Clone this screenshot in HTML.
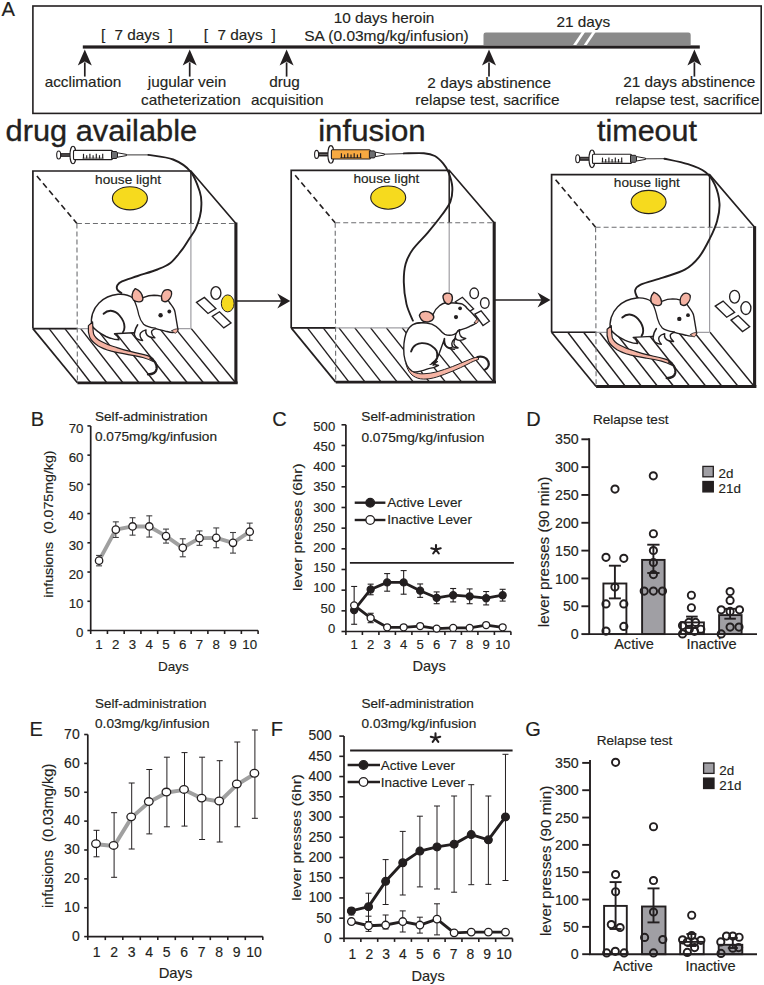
<!DOCTYPE html>
<html><head><meta charset="utf-8"><style>
html,body{margin:0;padding:0;background:#fff;width:764px;height:985px;overflow:hidden}
svg{display:block;font-family:"Liberation Sans", sans-serif}
</style></head><body>
<svg width="764" height="985" viewBox="0 0 764 985">
<rect width="764" height="985" fill="#fff"/>
<text x="1.5" y="15.7" font-size="20.2" fill="#231f20" stroke="#231f20" stroke-width="0.15">A</text>
<rect x="32.9" y="6" width="728.3" height="107.4" fill="none" stroke="#231f20" stroke-width="1.6"/>
<path d="M483.5,45 L483.5,34.7 Q483.5,32.4 485.8,32.4 L688.4,32.4 Q690.7,32.4 690.7,34.7 L690.7,45 Z" fill="#8a8a8a"/>
<path d="M573.1,45 L582,31.8 L585.3,31.8 L576.4,45 Z" fill="#fff"/>
<path d="M583.8,45 L592.6,31.8 L595.8,31.8 L586.8,45 Z" fill="#fff"/>
<rect x="82.8" y="45.4" width="617" height="3.2" fill="#231f20"/>
<line x1="84.80" y1="62.40" x2="84.80" y2="76.60" stroke="#231f20" stroke-width="1.7"/>
<path d="M84.80,49.40 L91.80,65.40 L84.80,61.60 L77.80,65.40 Z" fill="#231f20"/>
<line x1="189.70" y1="62.40" x2="189.70" y2="76.60" stroke="#231f20" stroke-width="1.7"/>
<path d="M189.70,49.40 L196.70,65.40 L189.70,61.60 L182.70,65.40 Z" fill="#231f20"/>
<line x1="286.60" y1="62.40" x2="286.60" y2="76.60" stroke="#231f20" stroke-width="1.7"/>
<path d="M286.60,49.40 L293.60,65.40 L286.60,61.60 L279.60,65.40 Z" fill="#231f20"/>
<line x1="489.00" y1="62.40" x2="489.00" y2="76.60" stroke="#231f20" stroke-width="1.7"/>
<path d="M489.00,49.40 L496.00,65.40 L489.00,61.60 L482.00,65.40 Z" fill="#231f20"/>
<line x1="694.40" y1="62.40" x2="694.40" y2="76.60" stroke="#231f20" stroke-width="1.7"/>
<path d="M694.40,49.40 L701.40,65.40 L694.40,61.60 L687.40,65.40 Z" fill="#231f20"/>
<text x="100.9" y="40.2" font-size="15.35" fill="#231f20" stroke="#231f20" stroke-width="0.15">[</text>
<text x="114.5" y="40.2" font-size="15.35" fill="#231f20" stroke="#231f20" stroke-width="0.15">7 days</text>
<text x="168.5" y="40.2" font-size="15.35" fill="#231f20" stroke="#231f20" stroke-width="0.15">]</text>
<text x="203.8" y="40.2" font-size="15.35" fill="#231f20" stroke="#231f20" stroke-width="0.15">[</text>
<text x="217.5" y="40.2" font-size="15.35" fill="#231f20" stroke="#231f20" stroke-width="0.15">7 days</text>
<text x="271.5" y="40.2" font-size="15.35" fill="#231f20" stroke="#231f20" stroke-width="0.15">]</text>
<text x="384" y="23" font-size="15.35" text-anchor="middle" fill="#231f20" stroke="#231f20" stroke-width="0.15">10 days heroin</text>
<text x="304.2" y="40.6" font-size="15.35" textLength="164.5" lengthAdjust="spacingAndGlyphs" fill="#231f20" stroke="#231f20" stroke-width="0.15">SA (0.03mg/kg/infusion)</text>
<text x="583.3" y="27.3" font-size="15.35" text-anchor="middle" fill="#231f20" stroke="#231f20" stroke-width="0.15">21 days</text>
<text x="83" y="87.2" font-size="15.35" text-anchor="middle" fill="#231f20" stroke="#231f20" stroke-width="0.15">acclimation</text>
<text x="187" y="86.8" font-size="15.35" text-anchor="middle" fill="#231f20" stroke="#231f20" stroke-width="0.15">jugular vein</text>
<text x="191" y="105" font-size="15.35" text-anchor="middle" fill="#231f20" stroke="#231f20" stroke-width="0.15">catheterization</text>
<text x="284.5" y="87" font-size="15.35" text-anchor="middle" fill="#231f20" stroke="#231f20" stroke-width="0.15">drug</text>
<text x="287.3" y="105" font-size="15.35" text-anchor="middle" fill="#231f20" stroke="#231f20" stroke-width="0.15">acquisition</text>
<text x="489.2" y="88.3" font-size="15.35" text-anchor="middle" fill="#231f20" stroke="#231f20" stroke-width="0.15">2 days abstinence</text>
<text x="487.4" y="105" font-size="15.35" text-anchor="middle" fill="#231f20" stroke="#231f20" stroke-width="0.15">relapse test, sacrifice</text>
<text x="689.3" y="86.9" font-size="15.35" text-anchor="middle" fill="#231f20" stroke="#231f20" stroke-width="0.15">21 days abstinence</text>
<text x="687.4" y="105" font-size="15.35" text-anchor="middle" fill="#231f20" stroke="#231f20" stroke-width="0.15">relapse test, sacrifice</text>
<text x="5.6" y="140.6" font-size="30" textLength="191.5" lengthAdjust="spacingAndGlyphs" fill="#231f20" stroke="#231f20" stroke-width="0.35">drug available</text>
<text x="318.2" y="140.6" font-size="30" textLength="107.5" lengthAdjust="spacingAndGlyphs" fill="#231f20" stroke="#231f20" stroke-width="0.35">infusion</text>
<text x="597" y="140.6" font-size="30" textLength="100" lengthAdjust="spacingAndGlyphs" fill="#231f20" stroke="#231f20" stroke-width="0.35">timeout</text>
<line x1="49.10" y1="328.60" x2="90.70" y2="382.80" stroke="#231f20" stroke-width="1.4"/>
<line x1="64.90" y1="328.60" x2="106.80" y2="382.80" stroke="#231f20" stroke-width="1.4"/>
<line x1="80.70" y1="328.60" x2="122.90" y2="382.80" stroke="#231f20" stroke-width="1.4"/>
<line x1="96.50" y1="328.60" x2="139.00" y2="382.80" stroke="#231f20" stroke-width="1.4"/>
<line x1="112.30" y1="328.60" x2="155.10" y2="382.80" stroke="#231f20" stroke-width="1.4"/>
<line x1="128.10" y1="328.60" x2="171.20" y2="382.80" stroke="#231f20" stroke-width="1.4"/>
<line x1="143.90" y1="328.60" x2="187.30" y2="382.80" stroke="#231f20" stroke-width="1.4"/>
<line x1="159.70" y1="328.60" x2="203.40" y2="382.80" stroke="#231f20" stroke-width="1.4"/>
<line x1="175.50" y1="328.60" x2="219.50" y2="382.80" stroke="#231f20" stroke-width="1.4"/>
<line x1="191.30" y1="328.60" x2="235.60" y2="382.80" stroke="#231f20" stroke-width="1.4"/>
<line x1="190.90" y1="223.50" x2="190.90" y2="328.60" stroke="#a09fa4" stroke-width="1.2"/>
<line x1="190.90" y1="171.00" x2="190.90" y2="223.50" stroke="#231f20" stroke-width="1.5"/>
<line x1="32.90" y1="328.60" x2="190.90" y2="328.60" stroke="#a09fa4" stroke-width="1.2"/>
<line x1="32.90" y1="328.60" x2="76.90" y2="328.60" stroke="#231f20" stroke-width="1.6"/>
<line x1="36.90" y1="176.00" x2="76.90" y2="223.50" stroke="#231f20" stroke-width="1.6" stroke-dasharray="5.8,3.7"/>
<line x1="76.90" y1="223.50" x2="235.90" y2="223.50" stroke="#6d6e71" stroke-width="1.1" stroke-dasharray="5,3"/>
<line x1="76.90" y1="223.50" x2="77.40" y2="382.80" stroke="#6d6e71" stroke-width="1.1" stroke-dasharray="5,3"/>
<path d="M32.9,328.6 L32.9,171 L190.9,171 L235.9,223.5" fill="none" stroke="#231f20" stroke-width="1.7" stroke-linejoin="miter"/>
<path d="M32.9,328.6 L77.4,382.8" fill="none" stroke="#231f20" stroke-width="1.7"/>
<line x1="235.90" y1="222.50" x2="235.90" y2="382.80" stroke="#231f20" stroke-width="3.1"/>
<path d="M237.70000000000002,382.8 L77.4,382.8" fill="none" stroke="#231f20" stroke-width="2.8"/>
<ellipse cx="129.9" cy="198.3" rx="17.5" ry="11.6" fill="#f6da1e" stroke="#231f20" stroke-width="1.1"/>
<text x="95.1" y="183.6" font-size="12.6" textLength="66" lengthAdjust="spacingAndGlyphs" fill="#231f20" stroke="#231f20" stroke-width="0.15">house light</text>
<line x1="307.40" y1="327.90" x2="349.00" y2="382.10" stroke="#231f20" stroke-width="1.4"/>
<line x1="323.20" y1="327.90" x2="365.10" y2="382.10" stroke="#231f20" stroke-width="1.4"/>
<line x1="339.00" y1="327.90" x2="381.20" y2="382.10" stroke="#231f20" stroke-width="1.4"/>
<line x1="354.80" y1="327.90" x2="397.30" y2="382.10" stroke="#231f20" stroke-width="1.4"/>
<line x1="370.60" y1="327.90" x2="413.40" y2="382.10" stroke="#231f20" stroke-width="1.4"/>
<line x1="386.40" y1="327.90" x2="429.50" y2="382.10" stroke="#231f20" stroke-width="1.4"/>
<line x1="402.20" y1="327.90" x2="445.60" y2="382.10" stroke="#231f20" stroke-width="1.4"/>
<line x1="418.00" y1="327.90" x2="461.70" y2="382.10" stroke="#231f20" stroke-width="1.4"/>
<line x1="433.80" y1="327.90" x2="477.80" y2="382.10" stroke="#231f20" stroke-width="1.4"/>
<line x1="449.60" y1="327.90" x2="493.90" y2="382.10" stroke="#231f20" stroke-width="1.4"/>
<line x1="449.20" y1="222.80" x2="449.20" y2="327.90" stroke="#a09fa4" stroke-width="1.2"/>
<line x1="449.20" y1="170.30" x2="449.20" y2="222.80" stroke="#231f20" stroke-width="1.5"/>
<line x1="291.20" y1="327.90" x2="449.20" y2="327.90" stroke="#a09fa4" stroke-width="1.2"/>
<line x1="291.20" y1="327.90" x2="335.20" y2="327.90" stroke="#231f20" stroke-width="1.6"/>
<line x1="295.20" y1="175.30" x2="335.20" y2="222.80" stroke="#231f20" stroke-width="1.6" stroke-dasharray="5.8,3.7"/>
<line x1="335.20" y1="222.80" x2="494.20" y2="222.80" stroke="#6d6e71" stroke-width="1.1" stroke-dasharray="5,3"/>
<line x1="335.20" y1="222.80" x2="335.70" y2="382.10" stroke="#6d6e71" stroke-width="1.1" stroke-dasharray="5,3"/>
<path d="M291.2,327.9 L291.2,170.3 L449.2,170.3 L494.2,222.8" fill="none" stroke="#231f20" stroke-width="1.7" stroke-linejoin="miter"/>
<path d="M291.2,327.9 L335.7,382.1" fill="none" stroke="#231f20" stroke-width="1.7"/>
<line x1="494.20" y1="221.80" x2="494.20" y2="382.10" stroke="#231f20" stroke-width="3.1"/>
<path d="M496.0,382.1 L335.7,382.1" fill="none" stroke="#231f20" stroke-width="2.8"/>
<ellipse cx="388.2" cy="197.60000000000002" rx="17.5" ry="11.6" fill="#f6da1e" stroke="#231f20" stroke-width="1.1"/>
<text x="353.4" y="182.9" font-size="12.6" textLength="66" lengthAdjust="spacingAndGlyphs" fill="#231f20" stroke="#231f20" stroke-width="0.15">house light</text>
<line x1="567.80" y1="332.30" x2="609.40" y2="386.50" stroke="#231f20" stroke-width="1.4"/>
<line x1="583.60" y1="332.30" x2="625.50" y2="386.50" stroke="#231f20" stroke-width="1.4"/>
<line x1="599.40" y1="332.30" x2="641.60" y2="386.50" stroke="#231f20" stroke-width="1.4"/>
<line x1="615.20" y1="332.30" x2="657.70" y2="386.50" stroke="#231f20" stroke-width="1.4"/>
<line x1="631.00" y1="332.30" x2="673.80" y2="386.50" stroke="#231f20" stroke-width="1.4"/>
<line x1="646.80" y1="332.30" x2="689.90" y2="386.50" stroke="#231f20" stroke-width="1.4"/>
<line x1="662.60" y1="332.30" x2="706.00" y2="386.50" stroke="#231f20" stroke-width="1.4"/>
<line x1="678.40" y1="332.30" x2="722.10" y2="386.50" stroke="#231f20" stroke-width="1.4"/>
<line x1="694.20" y1="332.30" x2="738.20" y2="386.50" stroke="#231f20" stroke-width="1.4"/>
<line x1="710.00" y1="332.30" x2="754.30" y2="386.50" stroke="#231f20" stroke-width="1.4"/>
<line x1="709.60" y1="227.20" x2="709.60" y2="332.30" stroke="#a09fa4" stroke-width="1.2"/>
<line x1="709.60" y1="174.70" x2="709.60" y2="227.20" stroke="#231f20" stroke-width="1.5"/>
<line x1="551.60" y1="332.30" x2="709.60" y2="332.30" stroke="#a09fa4" stroke-width="1.2"/>
<line x1="551.60" y1="332.30" x2="595.60" y2="332.30" stroke="#231f20" stroke-width="1.6"/>
<line x1="555.60" y1="179.70" x2="595.60" y2="227.20" stroke="#231f20" stroke-width="1.6" stroke-dasharray="5.8,3.7"/>
<line x1="595.60" y1="227.20" x2="754.60" y2="227.20" stroke="#6d6e71" stroke-width="1.1" stroke-dasharray="5,3"/>
<line x1="595.60" y1="227.20" x2="596.10" y2="386.50" stroke="#6d6e71" stroke-width="1.1" stroke-dasharray="5,3"/>
<path d="M551.6,332.29999999999995 L551.6,174.7 L709.6,174.7 L754.6,227.2" fill="none" stroke="#231f20" stroke-width="1.7" stroke-linejoin="miter"/>
<path d="M551.6,332.29999999999995 L596.1,386.5" fill="none" stroke="#231f20" stroke-width="1.7"/>
<line x1="754.60" y1="226.20" x2="754.60" y2="386.50" stroke="#231f20" stroke-width="3.1"/>
<path d="M756.4,386.5 L596.1,386.5" fill="none" stroke="#231f20" stroke-width="2.8"/>
<ellipse cx="648.6" cy="202.0" rx="17.5" ry="11.6" fill="#f6da1e" stroke="#231f20" stroke-width="1.1"/>
<text x="613.8000000000001" y="187.29999999999998" font-size="12.6" textLength="66" lengthAdjust="spacingAndGlyphs" fill="#231f20" stroke="#231f20" stroke-width="0.15">house light</text>
<g transform="translate(0.00,0.00)">
<ellipse cx="215.9" cy="293" rx="5" ry="6.4" fill="#fff" stroke="#231f20" stroke-width="1.35"/>
<ellipse cx="227.7" cy="303.4" rx="6.4" ry="8.5" fill="#f6da1e" stroke="#231f20" stroke-width="1"/>
<path d="M196.5,302.4 L204.4,297.4 L215.9,308.6 L208,313.5 Z" fill="#fff" stroke="#231f20" stroke-width="1.35"/>
<path d="M212.3,316.4 L219.5,311.8 L231,323 L223.8,327.9 Z" fill="#fff" stroke="#231f20" stroke-width="1.35"/>
</g>
<g transform="translate(518.70,3.70)">
<ellipse cx="215.9" cy="293" rx="5" ry="6.4" fill="#fff" stroke="#231f20" stroke-width="1.35"/>
<ellipse cx="227.2" cy="304.4" rx="5" ry="6.4" fill="#fff" stroke="#231f20" stroke-width="1.35"/>
<path d="M196.5,302.4 L204.4,297.4 L215.9,308.6 L208,313.5 Z" fill="#fff" stroke="#231f20" stroke-width="1.35"/>
<path d="M212.3,316.4 L219.5,311.8 L231,323 L223.8,327.9 Z" fill="#fff" stroke="#231f20" stroke-width="1.35"/>
</g>
<ellipse cx="474.2" cy="293.3" rx="4.3" ry="5.3" fill="#fff" stroke="#231f20" stroke-width="1.35"/>
<ellipse cx="484.8" cy="303" rx="4.3" ry="5.3" fill="#fff" stroke="#231f20" stroke-width="1.35"/>
<path d="M455.4,301.8 L462.4,297.3 L473.6,308.8 L467.1,313 Z" fill="#fff" stroke="#231f20" stroke-width="1.35"/>
<path d="M474.8,314.1 L481.1,310.8 L489.4,321.2 L483,325.5 Z" fill="#fff" stroke="#231f20" stroke-width="1.35"/>
<line x1="126.00" y1="154.90" x2="149.00" y2="154.90" stroke="#231f20" stroke-width="0.9"/>
<path d="M148.4,154.9 C152.5,155.7 166.0,156.7 173.1,159.5 C180.2,162.3 186.3,166.4 190.8,171.8 C195.3,177.2 198.1,186.8 199.9,192.2 C201.7,197.6 201.4,200.3 201.4,204.4 C201.4,208.5 200.9,212.5 199.9,216.6 C198.9,220.7 197.4,225.0 195.6,228.8 C193.8,232.6 191.2,235.7 188.8,239.4 C186.4,243.1 184.0,247.3 180.9,251.2 C177.8,255.1 174.3,259.9 170.4,263 C166.5,266.1 162.9,267.3 157.4,269.5 C151.9,271.7 143.6,274.0 137.7,276 C131.8,278.0 125.4,279.8 122,281.3 C118.6,282.8 118.2,283.8 117.4,285.2 C116.6,286.6 116.7,288.5 117.4,289.8 C118.1,291.1 120.7,292.5 121.4,293" fill="none" stroke="#231f20" stroke-width="1.9" stroke-linecap="round"/>
<line x1="384.00" y1="154.20" x2="404.50" y2="153.60" stroke="#231f20" stroke-width="0.9"/>
<path d="M403.8,153.4 C407.1,153.4 418.7,152.8 423.9,153.2 C429.1,153.6 431.7,154.3 434.9,156 C438.1,157.7 440.8,160.6 443.1,163.3 C445.4,166.0 447.1,168.4 448.6,172.4 C450.1,176.4 452.0,182.2 452.3,187.1 C452.6,192.0 452.1,197.1 450.4,201.7 C448.7,206.3 446.0,209.3 442.2,214.5 C438.4,219.7 432.5,227.0 427.6,232.8 C422.7,238.6 416.6,244.1 412.9,249.3 C409.2,254.5 407.1,258.4 405.6,263.9 C404.1,269.4 403.7,275.5 403.8,282.2 C403.9,288.9 405.0,297.7 406.5,304.1 C408.0,310.5 411.8,317.9 412.9,320.6" fill="none" stroke="#231f20" stroke-width="1.9" stroke-linecap="round"/>
<line x1="645.00" y1="158.80" x2="665.00" y2="158.70" stroke="#231f20" stroke-width="0.9"/>
<path d="M664.4,158.7 C668.3,159.6 681.2,162.0 688,164.2 C694.8,166.4 700.8,168.6 705.3,172 C709.8,175.4 712.4,179.3 714.8,184.6 C717.2,189.8 719.1,197.4 719.5,203.5 C719.9,209.6 718.7,215.1 717.1,220.9 C715.5,226.7 713.0,232.2 710,238.2 C707.0,244.2 703.2,251.9 699,257.1 C694.8,262.4 690.8,266.3 684.8,269.7 C678.8,273.1 670.1,275.1 662.8,277.6 C655.4,280.1 645.3,282.5 640.7,284.6 C636.1,286.7 635.9,288.2 635.2,290.2 C634.6,292.2 636.1,294.9 636.8,296.5 C637.5,298.1 638.8,299.1 639.2,299.6" fill="none" stroke="#231f20" stroke-width="1.9" stroke-linecap="round"/>
<g transform="translate(56.5,155)">
<ellipse cx="2.2" cy="0" rx="2" ry="4" fill="#fff" stroke="#231f20" stroke-width="1.1"/>
<rect x="4" y="-1.7" width="11" height="3.4" fill="#231f20" stroke="#231f20" stroke-width="0.6"/>
<line x1="5" y1="0" x2="14" y2="0" stroke="#bbb" stroke-width="0.5"/>
<ellipse cx="16.5" cy="0" rx="3" ry="8.8" fill="#fff" stroke="#231f20" stroke-width="1.1"/>
<rect x="17" y="-4.6" width="39" height="9.2" rx="1" fill="#fff" stroke="#231f20" stroke-width="1.1"/>
<line x1="27.0" y1="-1.2" x2="27.0" y2="3.6" stroke="#231f20" stroke-width="1.15"/>
<line x1="30.2" y1="0.2" x2="30.2" y2="3.6" stroke="#231f20" stroke-width="1.15"/>
<line x1="33.4" y1="-1.2" x2="33.4" y2="3.6" stroke="#231f20" stroke-width="1.15"/>
<line x1="36.6" y1="0.2" x2="36.6" y2="3.6" stroke="#231f20" stroke-width="1.15"/>
<line x1="39.8" y1="-1.2" x2="39.8" y2="3.6" stroke="#231f20" stroke-width="1.15"/>
<line x1="43.0" y1="0.2" x2="43.0" y2="3.6" stroke="#231f20" stroke-width="1.15"/>
<line x1="46.2" y1="-1.2" x2="46.2" y2="3.6" stroke="#231f20" stroke-width="1.15"/>
<line x1="26" y1="3.2" x2="47" y2="3.2" stroke="#231f20" stroke-width="0.7"/>
<path d="M55,-3.5 L60,-3.5 L61,-2 L61,2 L60,3.5 L55,3.5 Z" fill="#6d6e71" stroke="#231f20" stroke-width="1"/>
<path d="M61,-2.2 L70,-0.6 L70,0.6 L61,2.2 Z" fill="#fff" stroke="#231f20" stroke-width="1"/>
</g>
<g transform="translate(314.4,154.4)">
<ellipse cx="2.2" cy="0" rx="2" ry="4" fill="#fff" stroke="#231f20" stroke-width="1.1"/>
<rect x="4" y="-1.7" width="11" height="3.4" fill="#231f20" stroke="#231f20" stroke-width="0.6"/>
<line x1="5" y1="0" x2="14" y2="0" stroke="#bbb" stroke-width="0.5"/>
<ellipse cx="16.5" cy="0" rx="3" ry="8.8" fill="#fff" stroke="#231f20" stroke-width="1.1"/>
<rect x="17" y="-4.6" width="39" height="9.2" rx="1" fill="#f7a941" stroke="#231f20" stroke-width="1.1"/>
<line x1="27.0" y1="-1.2" x2="27.0" y2="3.6" stroke="#231f20" stroke-width="1.15"/>
<line x1="30.2" y1="0.2" x2="30.2" y2="3.6" stroke="#231f20" stroke-width="1.15"/>
<line x1="33.4" y1="-1.2" x2="33.4" y2="3.6" stroke="#231f20" stroke-width="1.15"/>
<line x1="36.6" y1="0.2" x2="36.6" y2="3.6" stroke="#231f20" stroke-width="1.15"/>
<line x1="39.8" y1="-1.2" x2="39.8" y2="3.6" stroke="#231f20" stroke-width="1.15"/>
<line x1="43.0" y1="0.2" x2="43.0" y2="3.6" stroke="#231f20" stroke-width="1.15"/>
<line x1="46.2" y1="-1.2" x2="46.2" y2="3.6" stroke="#231f20" stroke-width="1.15"/>
<line x1="26" y1="3.2" x2="47" y2="3.2" stroke="#231f20" stroke-width="0.7"/>
<path d="M55,-3.5 L60,-3.5 L61,-2 L61,2 L60,3.5 L55,3.5 Z" fill="#6d6e71" stroke="#231f20" stroke-width="1"/>
<path d="M61,-2.2 L70,-0.6 L70,0.6 L61,2.2 Z" fill="#fff" stroke="#231f20" stroke-width="1"/>
</g>
<g transform="translate(575.5,158.8)">
<ellipse cx="2.2" cy="0" rx="2" ry="4" fill="#fff" stroke="#231f20" stroke-width="1.1"/>
<rect x="4" y="-1.7" width="11" height="3.4" fill="#231f20" stroke="#231f20" stroke-width="0.6"/>
<line x1="5" y1="0" x2="14" y2="0" stroke="#bbb" stroke-width="0.5"/>
<ellipse cx="16.5" cy="0" rx="3" ry="8.8" fill="#fff" stroke="#231f20" stroke-width="1.1"/>
<rect x="17" y="-4.6" width="39" height="9.2" rx="1" fill="#fff" stroke="#231f20" stroke-width="1.1"/>
<line x1="27.0" y1="-1.2" x2="27.0" y2="3.6" stroke="#231f20" stroke-width="1.15"/>
<line x1="30.2" y1="0.2" x2="30.2" y2="3.6" stroke="#231f20" stroke-width="1.15"/>
<line x1="33.4" y1="-1.2" x2="33.4" y2="3.6" stroke="#231f20" stroke-width="1.15"/>
<line x1="36.6" y1="0.2" x2="36.6" y2="3.6" stroke="#231f20" stroke-width="1.15"/>
<line x1="39.8" y1="-1.2" x2="39.8" y2="3.6" stroke="#231f20" stroke-width="1.15"/>
<line x1="43.0" y1="0.2" x2="43.0" y2="3.6" stroke="#231f20" stroke-width="1.15"/>
<line x1="46.2" y1="-1.2" x2="46.2" y2="3.6" stroke="#231f20" stroke-width="1.15"/>
<line x1="26" y1="3.2" x2="47" y2="3.2" stroke="#231f20" stroke-width="0.7"/>
<path d="M55,-3.5 L60,-3.5 L61,-2 L61,2 L60,3.5 L55,3.5 Z" fill="#6d6e71" stroke="#231f20" stroke-width="1"/>
<path d="M61,-2.2 L70,-0.6 L70,0.6 L61,2.2 Z" fill="#fff" stroke="#231f20" stroke-width="1"/>
</g>
<g transform="translate(0,0)" stroke="#231f20" stroke-linejoin="round" stroke-linecap="round">
<path d="M92,326 C90,318 93,309 99,303 C104,298 111,295 118,294.3 C124,293.8 129,295 133,298 C137,297.8 141,297.5 143,297.6 C147,296 151,295.2 154,295.2 C157,295.3 159,295.6 161,296.2 C165,297.5 168,299.5 169.5,302.5 C172,306 174.5,308.5 175,312 C176,318 177,324 178,329.8 C176.5,332.5 172,333 167,331.5 C163,330.5 159,329.6 156,328.6 C153,329.3 151.5,330.8 151.5,332.2 C151.5,334 152.3,335.6 154.9,337.8 C151,337.8 148.5,336.8 146.8,334.8 C145.6,333.4 145.6,331.5 146,329.9 C143.5,330.6 141.5,331.6 140.5,333.1 C139.6,334.8 139.8,337.2 142.6,340.5 C139.5,340.3 136.8,339.2 135.5,337.2 C134.4,335.5 134.2,333.8 134.4,332.7 C128,332.8 121,333 114.5,333.8 C116.5,335 118.5,336.5 119,339.8 C116,339.8 113,339.2 110.5,338.2 C109,337.8 107.5,337.2 106,336.5 C101,334 96,331 92,326 Z" fill="#fff" stroke-width="1.4"/>
<path d="M92.6,322 C92.8,327 93,331 93.6,334 C95,337.5 97.5,339.5 100.9,341.3 C105,343.5 109,345.3 113.5,346.5 C118,347.9 122.5,349.5 127.1,350.7 C133,352.2 139,353.3 144.9,354.9 C148.5,355.8 151.5,357.2 153.3,359.1 L153.3,361.5 C150,359.9 146.5,358.6 142.8,357.5 C137.5,356.1 132.5,355.3 127.1,354.4 C121.5,353.4 116.5,352.5 111.4,351.2 C106.5,349.8 101.5,348 98.3,346 C94,343.1 90.8,340 89.8,337.5 C88.3,333.8 88,329.5 88.4,325.6 Z" fill="#f5b3a3" stroke-width="1.2"/>
<path d="M134.2,300.5 C136,304 137.5,309 138.8,314.9 C139.6,318 141,321.5 143.6,324.3 C146,326.3 150,327.6 155.5,328.2" fill="none" stroke-width="1.3"/>
<path d="M137.6,324.9 C136.2,327 135,329.5 134.5,332.6" fill="none" stroke-width="1.7"/>
<path d="M103.6,313.8 C106,311.5 108.5,310.7 110.8,310.8 C114,311 117,312.5 119.5,315.5 C122.5,319 124.5,323.5 124.5,327 C124.5,329 123.8,331 122.9,332.2" fill="none" stroke-width="1.9"/>
<path d="M150.5,358.2 C154.5,360 157.3,364.5 156.6,369 C156,372.3 152.5,374.3 148,374.4" fill="none" stroke-width="2.3"/>
<path d="M133.4,299.9 C131.3,297.5 131.5,292.5 135.3,288.6 C139.5,290.3 142.5,294 142.9,298.5 C143,300.5 141.5,302 138.9,301.9 C136.8,301.8 134.8,301.2 133.4,299.9 Z" fill="#f5b3a3" stroke-width="1.4"/>
<path d="M162,300.5 C161,297.5 161.5,293 164.5,290.3 C167,289 170,289.6 171.4,291.6 C172.2,294.5 170.5,298.5 167.9,300.7 C166,302 163.5,301.8 162,300.5 Z" fill="#f5b3a3" stroke-width="1.4"/>
<circle cx="160.6" cy="315.2" r="2.2" fill="#231f20" stroke="none"/>
<circle cx="169.3" cy="311.5" r="1.9" fill="#231f20" stroke="none"/>
<path d="M172,330.6 C173.5,329.5 175.8,328.8 177.8,328.8 C177.8,330.8 177,332.5 175.5,333.2 C174,332.8 172.8,332 172,330.6 Z" fill="#f5b3a3" stroke-width="0.8"/>
</g>
<g transform="translate(518.7,3.7)" stroke="#231f20" stroke-linejoin="round" stroke-linecap="round">
<path d="M92,326 C90,318 93,309 99,303 C104,298 111,295 118,294.3 C124,293.8 129,295 133,298 C137,297.8 141,297.5 143,297.6 C147,296 151,295.2 154,295.2 C157,295.3 159,295.6 161,296.2 C165,297.5 168,299.5 169.5,302.5 C172,306 174.5,308.5 175,312 C176,318 177,324 178,329.8 C176.5,332.5 172,333 167,331.5 C163,330.5 159,329.6 156,328.6 C153,329.3 151.5,330.8 151.5,332.2 C151.5,334 152.3,335.6 154.9,337.8 C151,337.8 148.5,336.8 146.8,334.8 C145.6,333.4 145.6,331.5 146,329.9 C143.5,330.6 141.5,331.6 140.5,333.1 C139.6,334.8 139.8,337.2 142.6,340.5 C139.5,340.3 136.8,339.2 135.5,337.2 C134.4,335.5 134.2,333.8 134.4,332.7 C128,332.8 121,333 114.5,333.8 C116.5,335 118.5,336.5 119,339.8 C116,339.8 113,339.2 110.5,338.2 C109,337.8 107.5,337.2 106,336.5 C101,334 96,331 92,326 Z" fill="#fff" stroke-width="1.4"/>
<path d="M92.6,322 C92.8,327 93,331 93.6,334 C95,337.5 97.5,339.5 100.9,341.3 C105,343.5 109,345.3 113.5,346.5 C118,347.9 122.5,349.5 127.1,350.7 C133,352.2 139,353.3 144.9,354.9 C148.5,355.8 151.5,357.2 153.3,359.1 L153.3,361.5 C150,359.9 146.5,358.6 142.8,357.5 C137.5,356.1 132.5,355.3 127.1,354.4 C121.5,353.4 116.5,352.5 111.4,351.2 C106.5,349.8 101.5,348 98.3,346 C94,343.1 90.8,340 89.8,337.5 C88.3,333.8 88,329.5 88.4,325.6 Z" fill="#f5b3a3" stroke-width="1.2"/>
<path d="M134.2,300.5 C136,304 137.5,309 138.8,314.9 C139.6,318 141,321.5 143.6,324.3 C146,326.3 150,327.6 155.5,328.2" fill="none" stroke-width="1.3"/>
<path d="M137.6,324.9 C136.2,327 135,329.5 134.5,332.6" fill="none" stroke-width="1.7"/>
<path d="M103.6,313.8 C106,311.5 108.5,310.7 110.8,310.8 C114,311 117,312.5 119.5,315.5 C122.5,319 124.5,323.5 124.5,327 C124.5,329 123.8,331 122.9,332.2" fill="none" stroke-width="1.9"/>
<path d="M150.5,358.2 C154.5,360 157.3,364.5 156.6,369 C156,372.3 152.5,374.3 148,374.4" fill="none" stroke-width="2.3"/>
<path d="M133.4,299.9 C131.3,297.5 131.5,292.5 135.3,288.6 C139.5,290.3 142.5,294 142.9,298.5 C143,300.5 141.5,302 138.9,301.9 C136.8,301.8 134.8,301.2 133.4,299.9 Z" fill="#f5b3a3" stroke-width="1.4"/>
<path d="M162,300.5 C161,297.5 161.5,293 164.5,290.3 C167,289 170,289.6 171.4,291.6 C172.2,294.5 170.5,298.5 167.9,300.7 C166,302 163.5,301.8 162,300.5 Z" fill="#f5b3a3" stroke-width="1.4"/>
<circle cx="160.6" cy="315.2" r="2.2" fill="#231f20" stroke="none"/>
<circle cx="169.3" cy="311.5" r="1.9" fill="#231f20" stroke="none"/>
<path d="M172,330.6 C173.5,329.5 175.8,328.8 177.8,328.8 C177.8,330.8 177,332.5 175.5,333.2 C174,332.8 172.8,332 172,330.6 Z" fill="#f5b3a3" stroke-width="0.8"/>
</g>
<g transform="translate(0,0)" stroke="#231f20" stroke-linejoin="round" stroke-linecap="round">
<path d="M407.9,362 C408.5,367 410.5,370.5 413.1,371.9 C416.5,373.5 420,374 423.6,373.8 C428,373.6 432.5,373 436.6,371.9 C442,370.3 447,368.6 452.4,366.6 C458,364.5 463,362 468.1,360.1 C471.5,358.6 475,357.4 478.5,356.8 L478.5,359.5 C475,360.5 471.5,362 468.1,364 C463,366.5 458,369 452.4,371.2 C447,373.3 442,375.5 436.6,377.1 C432,378.4 428,379.2 423.6,379.1 C419,379 416,377.8 413.1,375.8 C410,373.6 407.5,370 406,364 Z" fill="#f5b3a3" stroke-width="1.0"/>
<path d="M411.8,371 C407.5,368 405,362 404,355 C403.3,347 404,339.5 406,333.5 C408,328 411.5,324.8 415.5,323.5 C419,322.8 422,322.4 423.6,322.4 C426.5,320 430,316.5 433,314.5 C434.5,311 437,307.5 440,305.3 C442,304 443.5,303.3 444.8,303 C448,302.6 451.5,302.7 454.2,303 C457.5,303.3 460.5,303.6 462.4,304.1 C465,305.5 466.5,307.2 467.5,308.8 C470,311 473,314 476.6,318.2 C477.8,319.5 477.8,321.5 476.5,322.8 C474.5,324.5 472,325.3 470.7,325.9 C468,327.2 466,328.3 463.6,328.9 C461,329.8 459,330.3 457.7,330.8 L455,338 L452.2,343.5 L452.5,347 C450,348.5 447,347.4 445.3,345.5 C443.6,343.4 443.5,341 444.5,339 C442.5,344 440.5,350 438.2,356 C437,359.5 435.5,362.5 433.5,364.5 C436,364.8 437.5,365 438.5,365.3 C435.5,367.2 432,368.3 428.5,368.6 C424.5,370 420,371.8 415.8,372 C414,372 412.8,371.6 411.8,371 Z" fill="#fff" stroke-width="1.4"/>
<path d="M415.3,323.6 C420,322.2 426,322.6 431.8,324.2 C435,325.6 437.5,327.5 439.5,329.5 C441,331.3 442.5,333 444.8,334.3 C447.5,335.5 451,335.6 454.2,334.4 C456.5,333.5 458,331.8 459.3,329.8" fill="none" stroke-width="1.4"/>
<path d="M459.6,330 C457,331.5 455.5,334.5 455.4,337 C455.4,339.2 457.2,340.4 459.8,340.4 C462,340.4 464,339.6 465.8,338.4 C463,338.2 461.2,337 460.2,335.3 C459.4,333.8 459.3,331.8 459.6,330 Z" fill="#fff" stroke-width="1.3"/>
<path d="M455.6,338.6 C453.3,339.6 452,341.5 451.9,343.8 C451.9,346 453.5,347.6 455.8,348 C456.6,348.1 457.4,348.1 458.2,347.9 C456,347 454.5,345.6 454,344 C453.5,342.2 454.1,340.2 455.6,338.6 Z" fill="#fff" stroke-width="1.3"/>
<path d="M444.4,338.6 C444.3,342 445,345 446.5,346.8 C448.5,348.6 451.5,349.3 454.5,349.3" fill="none" stroke-width="1.5"/>
<path d="M411.1,351.6 C412,348.5 413.5,346.3 416,344.8 C418,343.5 420.5,343 422.3,343.1 C426,343.3 429.5,344.3 431.4,345.7 C434,347.5 436,349.5 436.6,350.9 C437.6,353.5 437.5,356 437,358 C436,360.5 434,362 432,363.5" fill="none" stroke-width="1.9"/>
<path d="M430,364.5 C432.5,363.5 435,362.2 437.5,361.5 C435.5,363 434,364.2 433,365.3" fill="none" stroke-width="1.1"/>
<path d="M477.5,357 C482,356 486.5,357.5 488.3,361.5 C489.5,364.8 488,368 485,369.6" fill="none" stroke-width="2.2"/>
<path d="M419.4,315.3 C420,313.5 421.2,312.2 423,311.7 C426,311 429.5,311.8 431.8,313.6 C433.5,315 434,317 433.6,318.3 C432.8,320.2 431,321.3 428.8,321.8 C425.5,322.4 422.5,321.4 421.2,319.4 C420.2,318 419.5,316.5 419.4,315.3 Z" fill="#f5b3a3" stroke-width="1.4"/>
<path d="M443,295.9 C443.6,294.3 444.8,293.5 446.2,293.2 C448.2,292.9 450.2,293.2 451.6,294.8 C452.6,296.3 452.5,299 451.8,301.3 C451,303.2 449.8,304.2 448.5,304.2 C446.8,304.2 445.2,303 444.2,301.2 C443.4,299.6 442.8,297.6 443,295.9 Z" fill="#f5b3a3" stroke-width="1.4"/>
<circle cx="460.1" cy="308.3" r="1.9" fill="#231f20" stroke="none"/>
<circle cx="456" cy="317.1" r="2.1" fill="#231f20" stroke="none"/>
<path d="M474.5,322.6 C475.2,320.8 476.5,319.3 478,318.8 C478.6,320.3 478.3,322.2 477,323.2 C476.2,323.5 475.2,323.3 474.5,322.6 Z" fill="#f5b3a3" stroke-width="0.8"/>
</g>
<line x1="237.00" y1="301.00" x2="282.30" y2="301.00" stroke="#231f20" stroke-width="1.7"/>
<path d="M290.3,301 L277.3,293.6 L281.3,301 L277.3,308.4 Z" fill="#231f20"/>
<line x1="495.00" y1="300.00" x2="542.50" y2="300.00" stroke="#231f20" stroke-width="1.7"/>
<path d="M550.5,300 L537.5,292.6 L541.5,300 L537.5,307.4 Z" fill="#231f20"/>
<text x="30.8" y="425.9" font-size="20" fill="#231f20" stroke="#231f20" stroke-width="0.15">B</text>
<text x="95" y="421.2" font-size="11.9" textLength="112.5" lengthAdjust="spacingAndGlyphs" fill="#231f20" stroke="#231f20" stroke-width="0.15">Self-administration</text>
<text x="95" y="441.2" font-size="12.4" textLength="122" lengthAdjust="spacingAndGlyphs" fill="#231f20" stroke="#231f20" stroke-width="0.15">0.075mg/kg/infusion</text>
<path d="M90.7,425.90 L90.7,630.5 L258.10,630.5" fill="none" stroke="#231f20" stroke-width="1.7"/>
<line x1="87.40" y1="630.50" x2="90.70" y2="630.50" stroke="#231f20" stroke-width="1.6"/>
<text x="83.5" y="637.36" font-size="13.3" text-anchor="end" fill="#231f20" stroke="#231f20" stroke-width="0.15">0</text>
<line x1="87.40" y1="601.27" x2="90.70" y2="601.27" stroke="#231f20" stroke-width="1.6"/>
<text x="83.5" y="608.13" font-size="13.3" text-anchor="end" fill="#231f20" stroke="#231f20" stroke-width="0.15">10</text>
<line x1="87.40" y1="572.04" x2="90.70" y2="572.04" stroke="#231f20" stroke-width="1.6"/>
<text x="83.5" y="578.90" font-size="13.3" text-anchor="end" fill="#231f20" stroke="#231f20" stroke-width="0.15">20</text>
<line x1="87.40" y1="542.81" x2="90.70" y2="542.81" stroke="#231f20" stroke-width="1.6"/>
<text x="83.5" y="549.68" font-size="13.3" text-anchor="end" fill="#231f20" stroke="#231f20" stroke-width="0.15">30</text>
<line x1="87.40" y1="513.58" x2="90.70" y2="513.58" stroke="#231f20" stroke-width="1.6"/>
<text x="83.5" y="520.45" font-size="13.3" text-anchor="end" fill="#231f20" stroke="#231f20" stroke-width="0.15">40</text>
<line x1="87.40" y1="484.36" x2="90.70" y2="484.36" stroke="#231f20" stroke-width="1.6"/>
<text x="83.5" y="491.22" font-size="13.3" text-anchor="end" fill="#231f20" stroke="#231f20" stroke-width="0.15">50</text>
<line x1="87.40" y1="455.13" x2="90.70" y2="455.13" stroke="#231f20" stroke-width="1.6"/>
<text x="83.5" y="461.99" font-size="13.3" text-anchor="end" fill="#231f20" stroke="#231f20" stroke-width="0.15">60</text>
<line x1="87.40" y1="425.90" x2="90.70" y2="425.90" stroke="#231f20" stroke-width="1.6"/>
<text x="83.5" y="432.76" font-size="13.3" text-anchor="end" fill="#231f20" stroke="#231f20" stroke-width="0.15">70</text>
<line x1="90.70" y1="630.50" x2="90.70" y2="634.00" stroke="#231f20" stroke-width="1.6"/>
<line x1="107.44" y1="630.50" x2="107.44" y2="634.00" stroke="#231f20" stroke-width="1.6"/>
<line x1="124.18" y1="630.50" x2="124.18" y2="634.00" stroke="#231f20" stroke-width="1.6"/>
<line x1="140.92" y1="630.50" x2="140.92" y2="634.00" stroke="#231f20" stroke-width="1.6"/>
<line x1="157.66" y1="630.50" x2="157.66" y2="634.00" stroke="#231f20" stroke-width="1.6"/>
<line x1="174.40" y1="630.50" x2="174.40" y2="634.00" stroke="#231f20" stroke-width="1.6"/>
<line x1="191.14" y1="630.50" x2="191.14" y2="634.00" stroke="#231f20" stroke-width="1.6"/>
<line x1="207.88" y1="630.50" x2="207.88" y2="634.00" stroke="#231f20" stroke-width="1.6"/>
<line x1="224.62" y1="630.50" x2="224.62" y2="634.00" stroke="#231f20" stroke-width="1.6"/>
<line x1="241.36" y1="630.50" x2="241.36" y2="634.00" stroke="#231f20" stroke-width="1.6"/>
<line x1="258.10" y1="630.50" x2="258.10" y2="634.00" stroke="#231f20" stroke-width="1.6"/>
<text x="99.07" y="649.3" font-size="13.3" text-anchor="middle" fill="#231f20" stroke="#231f20" stroke-width="0.15">1</text>
<text x="115.81" y="649.3" font-size="13.3" text-anchor="middle" fill="#231f20" stroke="#231f20" stroke-width="0.15">2</text>
<text x="132.55" y="649.3" font-size="13.3" text-anchor="middle" fill="#231f20" stroke="#231f20" stroke-width="0.15">3</text>
<text x="149.29" y="649.3" font-size="13.3" text-anchor="middle" fill="#231f20" stroke="#231f20" stroke-width="0.15">4</text>
<text x="166.03" y="649.3" font-size="13.3" text-anchor="middle" fill="#231f20" stroke="#231f20" stroke-width="0.15">5</text>
<text x="182.77" y="649.3" font-size="13.3" text-anchor="middle" fill="#231f20" stroke="#231f20" stroke-width="0.15">6</text>
<text x="199.51" y="649.3" font-size="13.3" text-anchor="middle" fill="#231f20" stroke="#231f20" stroke-width="0.15">7</text>
<text x="216.25" y="649.3" font-size="13.3" text-anchor="middle" fill="#231f20" stroke="#231f20" stroke-width="0.15">8</text>
<text x="232.99" y="649.3" font-size="13.3" text-anchor="middle" fill="#231f20" stroke="#231f20" stroke-width="0.15">9</text>
<text x="249.73" y="649.3" font-size="13.3" text-anchor="middle" fill="#231f20" stroke="#231f20" stroke-width="0.15">10</text>
<text x="173.45" y="670.6" font-size="13.5" text-anchor="middle" fill="#231f20" stroke="#231f20" stroke-width="0.15">Days</text>
<text x="0" y="0" font-size="13.3" text-anchor="middle" textLength="147.3" lengthAdjust="spacingAndGlyphs" fill="#231f20" stroke="#231f20" stroke-width="0.15" transform="translate(53.3,524.1) rotate(-90)">infusions&#160; (0.075mg/kg)</text>
<path d="M99.07,560.64 L115.81,529.66 L132.55,526.44 L149.29,526.44 L166.03,536.09 L182.77,547.78 L199.51,538.14 L216.25,537.84 L232.99,542.81 L249.73,531.71" fill="none" stroke="#a0a0a0" stroke-width="3.9" stroke-linejoin="round"/>
<line x1="99.07" y1="555.44" x2="99.07" y2="565.84" stroke="#414042" stroke-width="1.1"/>
<line x1="96.07" y1="555.44" x2="102.07" y2="555.44" stroke="#414042" stroke-width="1.1"/>
<line x1="96.07" y1="565.84" x2="102.07" y2="565.84" stroke="#414042" stroke-width="1.1"/>
<line x1="115.81" y1="521.86" x2="115.81" y2="537.46" stroke="#414042" stroke-width="1.1"/>
<line x1="112.81" y1="521.86" x2="118.81" y2="521.86" stroke="#414042" stroke-width="1.1"/>
<line x1="112.81" y1="537.46" x2="118.81" y2="537.46" stroke="#414042" stroke-width="1.1"/>
<line x1="132.55" y1="517.74" x2="132.55" y2="535.14" stroke="#414042" stroke-width="1.1"/>
<line x1="129.55" y1="517.74" x2="135.55" y2="517.74" stroke="#414042" stroke-width="1.1"/>
<line x1="129.55" y1="535.14" x2="135.55" y2="535.14" stroke="#414042" stroke-width="1.1"/>
<line x1="149.29" y1="515.84" x2="149.29" y2="537.04" stroke="#414042" stroke-width="1.1"/>
<line x1="146.29" y1="515.84" x2="152.29" y2="515.84" stroke="#414042" stroke-width="1.1"/>
<line x1="146.29" y1="537.04" x2="152.29" y2="537.04" stroke="#414042" stroke-width="1.1"/>
<line x1="166.03" y1="529.09" x2="166.03" y2="543.09" stroke="#414042" stroke-width="1.1"/>
<line x1="163.03" y1="529.09" x2="169.03" y2="529.09" stroke="#414042" stroke-width="1.1"/>
<line x1="163.03" y1="543.09" x2="169.03" y2="543.09" stroke="#414042" stroke-width="1.1"/>
<line x1="182.77" y1="538.78" x2="182.77" y2="556.78" stroke="#414042" stroke-width="1.1"/>
<line x1="179.77" y1="538.78" x2="185.77" y2="538.78" stroke="#414042" stroke-width="1.1"/>
<line x1="179.77" y1="556.78" x2="185.77" y2="556.78" stroke="#414042" stroke-width="1.1"/>
<line x1="199.51" y1="530.94" x2="199.51" y2="545.34" stroke="#414042" stroke-width="1.1"/>
<line x1="196.51" y1="530.94" x2="202.51" y2="530.94" stroke="#414042" stroke-width="1.1"/>
<line x1="196.51" y1="545.34" x2="202.51" y2="545.34" stroke="#414042" stroke-width="1.1"/>
<line x1="216.25" y1="527.94" x2="216.25" y2="547.74" stroke="#414042" stroke-width="1.1"/>
<line x1="213.25" y1="527.94" x2="219.25" y2="527.94" stroke="#414042" stroke-width="1.1"/>
<line x1="213.25" y1="547.74" x2="219.25" y2="547.74" stroke="#414042" stroke-width="1.1"/>
<line x1="232.99" y1="532.51" x2="232.99" y2="553.11" stroke="#414042" stroke-width="1.1"/>
<line x1="229.99" y1="532.51" x2="235.99" y2="532.51" stroke="#414042" stroke-width="1.1"/>
<line x1="229.99" y1="553.11" x2="235.99" y2="553.11" stroke="#414042" stroke-width="1.1"/>
<line x1="249.73" y1="523.11" x2="249.73" y2="540.31" stroke="#414042" stroke-width="1.1"/>
<line x1="246.73" y1="523.11" x2="252.73" y2="523.11" stroke="#414042" stroke-width="1.1"/>
<line x1="246.73" y1="540.31" x2="252.73" y2="540.31" stroke="#414042" stroke-width="1.1"/>
<circle cx="99.07" cy="560.64" r="3.7" fill="#fff" stroke="#231f20" stroke-width="1.3"/>
<circle cx="115.81" cy="529.66" r="3.7" fill="#fff" stroke="#231f20" stroke-width="1.3"/>
<circle cx="132.55" cy="526.44" r="3.7" fill="#fff" stroke="#231f20" stroke-width="1.3"/>
<circle cx="149.29" cy="526.44" r="3.7" fill="#fff" stroke="#231f20" stroke-width="1.3"/>
<circle cx="166.03" cy="536.09" r="3.7" fill="#fff" stroke="#231f20" stroke-width="1.3"/>
<circle cx="182.77" cy="547.78" r="3.7" fill="#fff" stroke="#231f20" stroke-width="1.3"/>
<circle cx="199.51" cy="538.14" r="3.7" fill="#fff" stroke="#231f20" stroke-width="1.3"/>
<circle cx="216.25" cy="537.84" r="3.7" fill="#fff" stroke="#231f20" stroke-width="1.3"/>
<circle cx="232.99" cy="542.81" r="3.7" fill="#fff" stroke="#231f20" stroke-width="1.3"/>
<circle cx="249.73" cy="531.71" r="3.7" fill="#fff" stroke="#231f20" stroke-width="1.3"/>
<text x="272.2" y="425.9" font-size="20" fill="#231f20" stroke="#231f20" stroke-width="0.15">C</text>
<text x="361.3" y="421.4" font-size="11.9" textLength="113.8" lengthAdjust="spacingAndGlyphs" fill="#231f20" stroke="#231f20" stroke-width="0.15">Self-administration</text>
<text x="361.4" y="441.5" font-size="12.4" textLength="123" lengthAdjust="spacingAndGlyphs" fill="#231f20" stroke="#231f20" stroke-width="0.15">0.075mg/kg/infusion</text>
<path d="M345.9,424.80 L345.9,631.5 L510.90,631.5" fill="none" stroke="#231f20" stroke-width="1.7"/>
<line x1="341.50" y1="631.50" x2="345.90" y2="631.50" stroke="#231f20" stroke-width="1.6"/>
<text x="335.20000000000005" y="632.79" font-size="13.1" text-anchor="end" fill="#231f20" stroke="#231f20" stroke-width="0.15">0</text>
<line x1="341.50" y1="610.83" x2="345.90" y2="610.83" stroke="#231f20" stroke-width="1.6"/>
<text x="335.20000000000005" y="612.60" font-size="13.1" text-anchor="end" fill="#231f20" stroke="#231f20" stroke-width="0.15">50</text>
<line x1="341.50" y1="590.16" x2="345.90" y2="590.16" stroke="#231f20" stroke-width="1.6"/>
<text x="335.20000000000005" y="592.41" font-size="13.1" text-anchor="end" fill="#231f20" stroke="#231f20" stroke-width="0.15">100</text>
<line x1="341.50" y1="569.49" x2="345.90" y2="569.49" stroke="#231f20" stroke-width="1.6"/>
<text x="335.20000000000005" y="572.22" font-size="13.1" text-anchor="end" fill="#231f20" stroke="#231f20" stroke-width="0.15">150</text>
<line x1="341.50" y1="548.82" x2="345.90" y2="548.82" stroke="#231f20" stroke-width="1.6"/>
<text x="335.20000000000005" y="552.03" font-size="13.1" text-anchor="end" fill="#231f20" stroke="#231f20" stroke-width="0.15">200</text>
<line x1="341.50" y1="528.15" x2="345.90" y2="528.15" stroke="#231f20" stroke-width="1.6"/>
<text x="335.20000000000005" y="531.84" font-size="13.1" text-anchor="end" fill="#231f20" stroke="#231f20" stroke-width="0.15">250</text>
<line x1="341.50" y1="507.48" x2="345.90" y2="507.48" stroke="#231f20" stroke-width="1.6"/>
<text x="335.20000000000005" y="511.65" font-size="13.1" text-anchor="end" fill="#231f20" stroke="#231f20" stroke-width="0.15">300</text>
<line x1="341.50" y1="486.81" x2="345.90" y2="486.81" stroke="#231f20" stroke-width="1.6"/>
<text x="335.20000000000005" y="491.46" font-size="13.1" text-anchor="end" fill="#231f20" stroke="#231f20" stroke-width="0.15">350</text>
<line x1="341.50" y1="466.14" x2="345.90" y2="466.14" stroke="#231f20" stroke-width="1.6"/>
<text x="335.20000000000005" y="471.27" font-size="13.1" text-anchor="end" fill="#231f20" stroke="#231f20" stroke-width="0.15">400</text>
<line x1="341.50" y1="445.47" x2="345.90" y2="445.47" stroke="#231f20" stroke-width="1.6"/>
<text x="335.20000000000005" y="451.08" font-size="13.1" text-anchor="end" fill="#231f20" stroke="#231f20" stroke-width="0.15">450</text>
<line x1="341.50" y1="424.80" x2="345.90" y2="424.80" stroke="#231f20" stroke-width="1.6"/>
<text x="335.20000000000005" y="430.89" font-size="13.1" text-anchor="end" fill="#231f20" stroke="#231f20" stroke-width="0.15">500</text>
<line x1="345.90" y1="631.50" x2="345.90" y2="635.00" stroke="#231f20" stroke-width="1.6"/>
<line x1="362.40" y1="631.50" x2="362.40" y2="635.00" stroke="#231f20" stroke-width="1.6"/>
<line x1="378.90" y1="631.50" x2="378.90" y2="635.00" stroke="#231f20" stroke-width="1.6"/>
<line x1="395.40" y1="631.50" x2="395.40" y2="635.00" stroke="#231f20" stroke-width="1.6"/>
<line x1="411.90" y1="631.50" x2="411.90" y2="635.00" stroke="#231f20" stroke-width="1.6"/>
<line x1="428.40" y1="631.50" x2="428.40" y2="635.00" stroke="#231f20" stroke-width="1.6"/>
<line x1="444.90" y1="631.50" x2="444.90" y2="635.00" stroke="#231f20" stroke-width="1.6"/>
<line x1="461.40" y1="631.50" x2="461.40" y2="635.00" stroke="#231f20" stroke-width="1.6"/>
<line x1="477.90" y1="631.50" x2="477.90" y2="635.00" stroke="#231f20" stroke-width="1.6"/>
<line x1="494.40" y1="631.50" x2="494.40" y2="635.00" stroke="#231f20" stroke-width="1.6"/>
<line x1="510.90" y1="631.50" x2="510.90" y2="635.00" stroke="#231f20" stroke-width="1.6"/>
<text x="354.15" y="648.5" font-size="13.1" text-anchor="middle" fill="#231f20" stroke="#231f20" stroke-width="0.15">1</text>
<text x="370.65" y="648.5" font-size="13.1" text-anchor="middle" fill="#231f20" stroke="#231f20" stroke-width="0.15">2</text>
<text x="387.15" y="648.5" font-size="13.1" text-anchor="middle" fill="#231f20" stroke="#231f20" stroke-width="0.15">3</text>
<text x="403.65" y="648.5" font-size="13.1" text-anchor="middle" fill="#231f20" stroke="#231f20" stroke-width="0.15">4</text>
<text x="420.15" y="648.5" font-size="13.1" text-anchor="middle" fill="#231f20" stroke="#231f20" stroke-width="0.15">5</text>
<text x="436.65" y="648.5" font-size="13.1" text-anchor="middle" fill="#231f20" stroke="#231f20" stroke-width="0.15">6</text>
<text x="453.15" y="648.5" font-size="13.1" text-anchor="middle" fill="#231f20" stroke="#231f20" stroke-width="0.15">7</text>
<text x="469.65" y="648.5" font-size="13.1" text-anchor="middle" fill="#231f20" stroke="#231f20" stroke-width="0.15">8</text>
<text x="486.15" y="648.5" font-size="13.1" text-anchor="middle" fill="#231f20" stroke="#231f20" stroke-width="0.15">9</text>
<text x="502.65" y="648.5" font-size="13.1" text-anchor="middle" fill="#231f20" stroke="#231f20" stroke-width="0.15">10</text>
<text x="429.1" y="670.6" font-size="14.6" text-anchor="middle" fill="#231f20" stroke="#231f20" stroke-width="0.15">Days</text>
<text x="0" y="0" font-size="13.3" text-anchor="middle" textLength="127.4" lengthAdjust="spacingAndGlyphs" fill="#231f20" stroke="#231f20" stroke-width="0.15" transform="translate(301.5,527.2) rotate(-90)">lever presses (6hr)</text>
<line x1="370.65" y1="584.16" x2="370.65" y2="594.76" stroke="#231f20" stroke-width="1.1"/>
<line x1="367.65" y1="584.16" x2="373.65" y2="584.16" stroke="#231f20" stroke-width="1.1"/>
<line x1="367.65" y1="594.76" x2="373.65" y2="594.76" stroke="#231f20" stroke-width="1.1"/>
<line x1="387.15" y1="573.59" x2="387.15" y2="591.19" stroke="#231f20" stroke-width="1.1"/>
<line x1="384.15" y1="573.59" x2="390.15" y2="573.59" stroke="#231f20" stroke-width="1.1"/>
<line x1="384.15" y1="591.19" x2="390.15" y2="591.19" stroke="#231f20" stroke-width="1.1"/>
<line x1="403.65" y1="570.59" x2="403.65" y2="594.19" stroke="#231f20" stroke-width="1.1"/>
<line x1="400.65" y1="570.59" x2="406.65" y2="570.59" stroke="#231f20" stroke-width="1.1"/>
<line x1="400.65" y1="594.19" x2="406.65" y2="594.19" stroke="#231f20" stroke-width="1.1"/>
<line x1="420.15" y1="583.96" x2="420.15" y2="597.36" stroke="#231f20" stroke-width="1.1"/>
<line x1="417.15" y1="583.96" x2="423.15" y2="583.96" stroke="#231f20" stroke-width="1.1"/>
<line x1="417.15" y1="597.36" x2="423.15" y2="597.36" stroke="#231f20" stroke-width="1.1"/>
<line x1="436.65" y1="591.91" x2="436.65" y2="603.71" stroke="#231f20" stroke-width="1.1"/>
<line x1="433.65" y1="591.91" x2="439.65" y2="591.91" stroke="#231f20" stroke-width="1.1"/>
<line x1="433.65" y1="603.71" x2="439.65" y2="603.71" stroke="#231f20" stroke-width="1.1"/>
<line x1="453.15" y1="588.50" x2="453.15" y2="601.90" stroke="#231f20" stroke-width="1.1"/>
<line x1="450.15" y1="588.50" x2="456.15" y2="588.50" stroke="#231f20" stroke-width="1.1"/>
<line x1="450.15" y1="601.90" x2="456.15" y2="601.90" stroke="#231f20" stroke-width="1.1"/>
<line x1="469.65" y1="588.92" x2="469.65" y2="603.72" stroke="#231f20" stroke-width="1.1"/>
<line x1="466.65" y1="588.92" x2="472.65" y2="588.92" stroke="#231f20" stroke-width="1.1"/>
<line x1="466.65" y1="603.72" x2="472.65" y2="603.72" stroke="#231f20" stroke-width="1.1"/>
<line x1="486.15" y1="591.52" x2="486.15" y2="604.92" stroke="#231f20" stroke-width="1.1"/>
<line x1="483.15" y1="591.52" x2="489.15" y2="591.52" stroke="#231f20" stroke-width="1.1"/>
<line x1="483.15" y1="604.92" x2="489.15" y2="604.92" stroke="#231f20" stroke-width="1.1"/>
<line x1="502.65" y1="589.30" x2="502.65" y2="601.10" stroke="#231f20" stroke-width="1.1"/>
<line x1="499.65" y1="589.30" x2="505.65" y2="589.30" stroke="#231f20" stroke-width="1.1"/>
<line x1="499.65" y1="601.10" x2="505.65" y2="601.10" stroke="#231f20" stroke-width="1.1"/>
<line x1="354.15" y1="586.47" x2="354.15" y2="624.27" stroke="#231f20" stroke-width="1.1"/>
<line x1="351.15" y1="586.47" x2="357.15" y2="586.47" stroke="#231f20" stroke-width="1.1"/>
<line x1="351.15" y1="624.27" x2="357.15" y2="624.27" stroke="#231f20" stroke-width="1.1"/>
<line x1="370.65" y1="613.28" x2="370.65" y2="622.68" stroke="#231f20" stroke-width="1.1"/>
<line x1="367.65" y1="613.28" x2="373.65" y2="613.28" stroke="#231f20" stroke-width="1.1"/>
<line x1="367.65" y1="622.68" x2="373.65" y2="622.68" stroke="#231f20" stroke-width="1.1"/>
<path d="M354.15,610.13 L370.65,589.46 L387.15,582.39 L403.65,582.39 L420.15,590.66 L436.65,597.81 L453.15,595.20 L469.65,596.32 L486.15,598.22 L502.65,595.20" fill="none" stroke="#231f20" stroke-width="2.8" stroke-linejoin="round"/>
<path d="M354.15,605.37 L370.65,617.98 L387.15,627.28 L403.65,627.28 L420.15,626.04 L436.65,628.61 L453.15,627.90 L469.65,627.90 L486.15,625.05 L502.65,627.28" fill="none" stroke="#231f20" stroke-width="2.8" stroke-linejoin="round"/>
<circle cx="354.15" cy="610.13" r="3.5" fill="#231f20" stroke="#231f20" stroke-width="1.3"/>
<circle cx="370.65" cy="589.46" r="3.5" fill="#231f20" stroke="#231f20" stroke-width="1.3"/>
<circle cx="387.15" cy="582.39" r="3.5" fill="#231f20" stroke="#231f20" stroke-width="1.3"/>
<circle cx="403.65" cy="582.39" r="3.5" fill="#231f20" stroke="#231f20" stroke-width="1.3"/>
<circle cx="420.15" cy="590.66" r="3.5" fill="#231f20" stroke="#231f20" stroke-width="1.3"/>
<circle cx="436.65" cy="597.81" r="3.5" fill="#231f20" stroke="#231f20" stroke-width="1.3"/>
<circle cx="453.15" cy="595.20" r="3.5" fill="#231f20" stroke="#231f20" stroke-width="1.3"/>
<circle cx="469.65" cy="596.32" r="3.5" fill="#231f20" stroke="#231f20" stroke-width="1.3"/>
<circle cx="486.15" cy="598.22" r="3.5" fill="#231f20" stroke="#231f20" stroke-width="1.3"/>
<circle cx="502.65" cy="595.20" r="3.5" fill="#231f20" stroke="#231f20" stroke-width="1.3"/>
<circle cx="354.15" cy="605.37" r="3.5" fill="#fff" stroke="#231f20" stroke-width="1.3"/>
<circle cx="370.65" cy="617.98" r="3.5" fill="#fff" stroke="#231f20" stroke-width="1.3"/>
<circle cx="387.15" cy="627.28" r="3.5" fill="#fff" stroke="#231f20" stroke-width="1.3"/>
<circle cx="403.65" cy="627.28" r="3.5" fill="#fff" stroke="#231f20" stroke-width="1.3"/>
<circle cx="420.15" cy="626.04" r="3.5" fill="#fff" stroke="#231f20" stroke-width="1.3"/>
<circle cx="436.65" cy="628.61" r="3.5" fill="#fff" stroke="#231f20" stroke-width="1.3"/>
<circle cx="453.15" cy="627.90" r="3.5" fill="#fff" stroke="#231f20" stroke-width="1.3"/>
<circle cx="469.65" cy="627.90" r="3.5" fill="#fff" stroke="#231f20" stroke-width="1.3"/>
<circle cx="486.15" cy="625.05" r="3.5" fill="#fff" stroke="#231f20" stroke-width="1.3"/>
<circle cx="502.65" cy="627.28" r="3.5" fill="#fff" stroke="#231f20" stroke-width="1.3"/>
<line x1="354.70" y1="502.70" x2="385.40" y2="502.70" stroke="#231f20" stroke-width="2.4"/>
<circle cx="370.20" cy="502.70" r="4.3" fill="#231f20" stroke="#231f20" stroke-width="1.3"/>
<line x1="354.70" y1="520.00" x2="385.40" y2="520.00" stroke="#231f20" stroke-width="2.4"/>
<circle cx="370.20" cy="520.00" r="4.3" fill="#fff" stroke="#231f20" stroke-width="1.3"/>
<text x="387.2" y="506.9" font-size="13.6" textLength="74.8" lengthAdjust="spacingAndGlyphs" fill="#231f20" stroke="#231f20" stroke-width="0.15">Active Lever</text>
<text x="387.2" y="524.2" font-size="13.6" textLength="84.8" lengthAdjust="spacingAndGlyphs" fill="#231f20" stroke="#231f20" stroke-width="0.15">Inactive Lever</text>
<line x1="349.90" y1="562.90" x2="513.90" y2="562.90" stroke="#231f20" stroke-width="1.9"/>
<path d="M436,549.6 L436.00,545.00 M436,549.6 L431.30,548.30 M436,549.6 L440.70,548.30 M436,549.6 L433.20,553.50 M436,549.6 L438.80,553.50" stroke="#231f20" stroke-width="2.1" stroke-linecap="round" fill="none"/>
<text x="29.6" y="735.9" font-size="20" fill="#231f20" stroke="#231f20" stroke-width="0.15">E</text>
<text x="95" y="708" font-size="11.9" textLength="111.4" lengthAdjust="spacingAndGlyphs" fill="#231f20" stroke="#231f20" stroke-width="0.15">Self-administration</text>
<text x="95" y="727.8" font-size="12.4" textLength="114.5" lengthAdjust="spacingAndGlyphs" fill="#231f20" stroke="#231f20" stroke-width="0.15">0.03mg/kg/infusion</text>
<path d="M87.8,734.51 L87.8,936.6 L262.80,936.6" fill="none" stroke="#231f20" stroke-width="1.7"/>
<line x1="84.20" y1="936.60" x2="87.80" y2="936.60" stroke="#231f20" stroke-width="1.6"/>
<text x="79.69999999999999" y="940.81" font-size="14" text-anchor="end" fill="#231f20" stroke="#231f20" stroke-width="0.15">0</text>
<line x1="84.20" y1="907.73" x2="87.80" y2="907.73" stroke="#231f20" stroke-width="1.6"/>
<text x="79.69999999999999" y="911.95" font-size="14" text-anchor="end" fill="#231f20" stroke="#231f20" stroke-width="0.15">10</text>
<line x1="84.20" y1="878.86" x2="87.80" y2="878.86" stroke="#231f20" stroke-width="1.6"/>
<text x="79.69999999999999" y="883.10" font-size="14" text-anchor="end" fill="#231f20" stroke="#231f20" stroke-width="0.15">20</text>
<line x1="84.20" y1="849.99" x2="87.80" y2="849.99" stroke="#231f20" stroke-width="1.6"/>
<text x="79.69999999999999" y="854.24" font-size="14" text-anchor="end" fill="#231f20" stroke="#231f20" stroke-width="0.15">30</text>
<line x1="84.20" y1="821.12" x2="87.80" y2="821.12" stroke="#231f20" stroke-width="1.6"/>
<text x="79.69999999999999" y="825.38" font-size="14" text-anchor="end" fill="#231f20" stroke="#231f20" stroke-width="0.15">40</text>
<line x1="84.20" y1="792.25" x2="87.80" y2="792.25" stroke="#231f20" stroke-width="1.6"/>
<text x="79.69999999999999" y="796.53" font-size="14" text-anchor="end" fill="#231f20" stroke="#231f20" stroke-width="0.15">50</text>
<line x1="84.20" y1="763.38" x2="87.80" y2="763.38" stroke="#231f20" stroke-width="1.6"/>
<text x="79.69999999999999" y="767.67" font-size="14" text-anchor="end" fill="#231f20" stroke="#231f20" stroke-width="0.15">60</text>
<line x1="84.20" y1="734.51" x2="87.80" y2="734.51" stroke="#231f20" stroke-width="1.6"/>
<text x="79.69999999999999" y="738.81" font-size="14" text-anchor="end" fill="#231f20" stroke="#231f20" stroke-width="0.15">70</text>
<line x1="87.80" y1="936.60" x2="87.80" y2="940.10" stroke="#231f20" stroke-width="1.6"/>
<line x1="105.30" y1="936.60" x2="105.30" y2="940.10" stroke="#231f20" stroke-width="1.6"/>
<line x1="122.80" y1="936.60" x2="122.80" y2="940.10" stroke="#231f20" stroke-width="1.6"/>
<line x1="140.30" y1="936.60" x2="140.30" y2="940.10" stroke="#231f20" stroke-width="1.6"/>
<line x1="157.80" y1="936.60" x2="157.80" y2="940.10" stroke="#231f20" stroke-width="1.6"/>
<line x1="175.30" y1="936.60" x2="175.30" y2="940.10" stroke="#231f20" stroke-width="1.6"/>
<line x1="192.80" y1="936.60" x2="192.80" y2="940.10" stroke="#231f20" stroke-width="1.6"/>
<line x1="210.30" y1="936.60" x2="210.30" y2="940.10" stroke="#231f20" stroke-width="1.6"/>
<line x1="227.80" y1="936.60" x2="227.80" y2="940.10" stroke="#231f20" stroke-width="1.6"/>
<line x1="245.30" y1="936.60" x2="245.30" y2="940.10" stroke="#231f20" stroke-width="1.6"/>
<line x1="262.80" y1="936.60" x2="262.80" y2="940.10" stroke="#231f20" stroke-width="1.6"/>
<text x="96.55" y="956.5" font-size="14" text-anchor="middle" fill="#231f20" stroke="#231f20" stroke-width="0.15">1</text>
<text x="114.05" y="956.5" font-size="14" text-anchor="middle" fill="#231f20" stroke="#231f20" stroke-width="0.15">2</text>
<text x="131.55" y="956.5" font-size="14" text-anchor="middle" fill="#231f20" stroke="#231f20" stroke-width="0.15">3</text>
<text x="149.05" y="956.5" font-size="14" text-anchor="middle" fill="#231f20" stroke="#231f20" stroke-width="0.15">4</text>
<text x="166.55" y="956.5" font-size="14" text-anchor="middle" fill="#231f20" stroke="#231f20" stroke-width="0.15">5</text>
<text x="184.05" y="956.5" font-size="14" text-anchor="middle" fill="#231f20" stroke="#231f20" stroke-width="0.15">6</text>
<text x="201.55" y="956.5" font-size="14" text-anchor="middle" fill="#231f20" stroke="#231f20" stroke-width="0.15">7</text>
<text x="219.05" y="956.5" font-size="14" text-anchor="middle" fill="#231f20" stroke="#231f20" stroke-width="0.15">8</text>
<text x="236.55" y="956.5" font-size="14" text-anchor="middle" fill="#231f20" stroke="#231f20" stroke-width="0.15">9</text>
<text x="254.05" y="956.5" font-size="14" text-anchor="middle" fill="#231f20" stroke="#231f20" stroke-width="0.15">10</text>
<text x="175.5" y="978.3" font-size="14.8" text-anchor="middle" fill="#231f20" stroke="#231f20" stroke-width="0.15">Days</text>
<text x="0" y="0" font-size="14.5" text-anchor="middle" textLength="144.4" lengthAdjust="spacingAndGlyphs" fill="#231f20" stroke="#231f20" stroke-width="0.15" transform="translate(53,835.9) rotate(-90)">infusions&#160; (0.03mg/kg)</text>
<path d="M96.50,844.22 L114.10,845.95 L131.70,817.37 L149.30,802.07 L166.90,792.54 L184.50,789.94 L202.10,798.60 L219.70,801.49 L237.30,784.46 L254.90,773.77" fill="none" stroke="#a0a0a0" stroke-width="3.9" stroke-linejoin="round"/>
<line x1="96.50" y1="830.30" x2="96.50" y2="856.80" stroke="#231f20" stroke-width="1.0"/>
<line x1="93.50" y1="830.30" x2="99.50" y2="830.30" stroke="#231f20" stroke-width="1.0"/>
<line x1="93.50" y1="856.80" x2="99.50" y2="856.80" stroke="#231f20" stroke-width="1.0"/>
<line x1="114.10" y1="812.70" x2="114.10" y2="877.30" stroke="#231f20" stroke-width="1.0"/>
<line x1="111.10" y1="812.70" x2="117.10" y2="812.70" stroke="#231f20" stroke-width="1.0"/>
<line x1="111.10" y1="877.30" x2="117.10" y2="877.30" stroke="#231f20" stroke-width="1.0"/>
<line x1="131.70" y1="783.00" x2="131.70" y2="849.00" stroke="#231f20" stroke-width="1.0"/>
<line x1="128.70" y1="783.00" x2="134.70" y2="783.00" stroke="#231f20" stroke-width="1.0"/>
<line x1="128.70" y1="849.00" x2="134.70" y2="849.00" stroke="#231f20" stroke-width="1.0"/>
<line x1="149.30" y1="769.50" x2="149.30" y2="833.90" stroke="#231f20" stroke-width="1.0"/>
<line x1="146.30" y1="769.50" x2="152.30" y2="769.50" stroke="#231f20" stroke-width="1.0"/>
<line x1="146.30" y1="833.90" x2="152.30" y2="833.90" stroke="#231f20" stroke-width="1.0"/>
<line x1="166.90" y1="757.20" x2="166.90" y2="826.80" stroke="#231f20" stroke-width="1.0"/>
<line x1="163.90" y1="757.20" x2="169.90" y2="757.20" stroke="#231f20" stroke-width="1.0"/>
<line x1="163.90" y1="826.80" x2="169.90" y2="826.80" stroke="#231f20" stroke-width="1.0"/>
<line x1="184.50" y1="752.60" x2="184.50" y2="826.10" stroke="#231f20" stroke-width="1.0"/>
<line x1="181.50" y1="752.60" x2="187.50" y2="752.60" stroke="#231f20" stroke-width="1.0"/>
<line x1="181.50" y1="826.10" x2="187.50" y2="826.10" stroke="#231f20" stroke-width="1.0"/>
<line x1="202.10" y1="757.20" x2="202.10" y2="839.50" stroke="#231f20" stroke-width="1.0"/>
<line x1="199.10" y1="757.20" x2="205.10" y2="757.20" stroke="#231f20" stroke-width="1.0"/>
<line x1="199.10" y1="839.50" x2="205.10" y2="839.50" stroke="#231f20" stroke-width="1.0"/>
<line x1="219.70" y1="760.70" x2="219.70" y2="842.00" stroke="#231f20" stroke-width="1.0"/>
<line x1="216.70" y1="760.70" x2="222.70" y2="760.70" stroke="#231f20" stroke-width="1.0"/>
<line x1="216.70" y1="842.00" x2="222.70" y2="842.00" stroke="#231f20" stroke-width="1.0"/>
<line x1="237.30" y1="742.00" x2="237.30" y2="826.80" stroke="#231f20" stroke-width="1.0"/>
<line x1="234.30" y1="742.00" x2="240.30" y2="742.00" stroke="#231f20" stroke-width="1.0"/>
<line x1="234.30" y1="826.80" x2="240.30" y2="826.80" stroke="#231f20" stroke-width="1.0"/>
<line x1="254.90" y1="730.00" x2="254.90" y2="818.30" stroke="#231f20" stroke-width="1.0"/>
<line x1="251.90" y1="730.00" x2="257.90" y2="730.00" stroke="#231f20" stroke-width="1.0"/>
<line x1="251.90" y1="818.30" x2="257.90" y2="818.30" stroke="#231f20" stroke-width="1.0"/>
<ellipse cx="96.00" cy="843.72" rx="4.3" ry="3.8" fill="#fff" stroke="#231f20" stroke-width="1.3"/>
<ellipse cx="113.60" cy="845.45" rx="4.3" ry="3.8" fill="#fff" stroke="#231f20" stroke-width="1.3"/>
<ellipse cx="131.20" cy="816.87" rx="4.3" ry="3.8" fill="#fff" stroke="#231f20" stroke-width="1.3"/>
<ellipse cx="148.80" cy="801.57" rx="4.3" ry="3.8" fill="#fff" stroke="#231f20" stroke-width="1.3"/>
<ellipse cx="166.40" cy="792.04" rx="4.3" ry="3.8" fill="#fff" stroke="#231f20" stroke-width="1.3"/>
<ellipse cx="184.00" cy="789.44" rx="4.3" ry="3.8" fill="#fff" stroke="#231f20" stroke-width="1.3"/>
<ellipse cx="201.60" cy="798.10" rx="4.3" ry="3.8" fill="#fff" stroke="#231f20" stroke-width="1.3"/>
<ellipse cx="219.20" cy="800.99" rx="4.3" ry="3.8" fill="#fff" stroke="#231f20" stroke-width="1.3"/>
<ellipse cx="236.80" cy="783.96" rx="4.3" ry="3.8" fill="#fff" stroke="#231f20" stroke-width="1.3"/>
<ellipse cx="254.40" cy="773.27" rx="4.3" ry="3.8" fill="#fff" stroke="#231f20" stroke-width="1.3"/>
<text x="270.8" y="735.9" font-size="20" fill="#231f20" stroke="#231f20" stroke-width="0.15">F</text>
<text x="361.5" y="708" font-size="11.9" textLength="112.4" lengthAdjust="spacingAndGlyphs" fill="#231f20" stroke="#231f20" stroke-width="0.15">Self-administration</text>
<text x="361.5" y="727.8" font-size="12.4" textLength="114.8" lengthAdjust="spacingAndGlyphs" fill="#231f20" stroke="#231f20" stroke-width="0.15">0.03mg/kg/infusion</text>
<path d="M344,736.10 L344,938.4 L512.50,938.4" fill="none" stroke="#231f20" stroke-width="1.7"/>
<line x1="339.30" y1="938.40" x2="344.00" y2="938.40" stroke="#231f20" stroke-width="1.6"/>
<text x="331.8" y="942.88" font-size="13.9" text-anchor="end" fill="#231f20" stroke="#231f20" stroke-width="0.15">0</text>
<line x1="339.30" y1="918.17" x2="344.00" y2="918.17" stroke="#231f20" stroke-width="1.6"/>
<text x="331.8" y="922.64" font-size="13.9" text-anchor="end" fill="#231f20" stroke="#231f20" stroke-width="0.15">50</text>
<line x1="339.30" y1="897.94" x2="344.00" y2="897.94" stroke="#231f20" stroke-width="1.6"/>
<text x="331.8" y="902.40" font-size="13.9" text-anchor="end" fill="#231f20" stroke="#231f20" stroke-width="0.15">100</text>
<line x1="339.30" y1="877.71" x2="344.00" y2="877.71" stroke="#231f20" stroke-width="1.6"/>
<text x="331.8" y="882.16" font-size="13.9" text-anchor="end" fill="#231f20" stroke="#231f20" stroke-width="0.15">150</text>
<line x1="339.30" y1="857.48" x2="344.00" y2="857.48" stroke="#231f20" stroke-width="1.6"/>
<text x="331.8" y="861.92" font-size="13.9" text-anchor="end" fill="#231f20" stroke="#231f20" stroke-width="0.15">200</text>
<line x1="339.30" y1="837.25" x2="344.00" y2="837.25" stroke="#231f20" stroke-width="1.6"/>
<text x="331.8" y="841.68" font-size="13.9" text-anchor="end" fill="#231f20" stroke="#231f20" stroke-width="0.15">250</text>
<line x1="339.30" y1="817.02" x2="344.00" y2="817.02" stroke="#231f20" stroke-width="1.6"/>
<text x="331.8" y="821.44" font-size="13.9" text-anchor="end" fill="#231f20" stroke="#231f20" stroke-width="0.15">300</text>
<line x1="339.30" y1="796.79" x2="344.00" y2="796.79" stroke="#231f20" stroke-width="1.6"/>
<text x="331.8" y="801.20" font-size="13.9" text-anchor="end" fill="#231f20" stroke="#231f20" stroke-width="0.15">350</text>
<line x1="339.30" y1="776.56" x2="344.00" y2="776.56" stroke="#231f20" stroke-width="1.6"/>
<text x="331.8" y="780.96" font-size="13.9" text-anchor="end" fill="#231f20" stroke="#231f20" stroke-width="0.15">400</text>
<line x1="339.30" y1="756.33" x2="344.00" y2="756.33" stroke="#231f20" stroke-width="1.6"/>
<text x="331.8" y="760.72" font-size="13.9" text-anchor="end" fill="#231f20" stroke="#231f20" stroke-width="0.15">450</text>
<line x1="339.30" y1="736.10" x2="344.00" y2="736.10" stroke="#231f20" stroke-width="1.6"/>
<text x="331.8" y="740.48" font-size="13.9" text-anchor="end" fill="#231f20" stroke="#231f20" stroke-width="0.15">500</text>
<line x1="344.00" y1="938.40" x2="344.00" y2="941.90" stroke="#231f20" stroke-width="1.6"/>
<line x1="360.85" y1="938.40" x2="360.85" y2="941.90" stroke="#231f20" stroke-width="1.6"/>
<line x1="377.70" y1="938.40" x2="377.70" y2="941.90" stroke="#231f20" stroke-width="1.6"/>
<line x1="394.55" y1="938.40" x2="394.55" y2="941.90" stroke="#231f20" stroke-width="1.6"/>
<line x1="411.40" y1="938.40" x2="411.40" y2="941.90" stroke="#231f20" stroke-width="1.6"/>
<line x1="428.25" y1="938.40" x2="428.25" y2="941.90" stroke="#231f20" stroke-width="1.6"/>
<line x1="445.10" y1="938.40" x2="445.10" y2="941.90" stroke="#231f20" stroke-width="1.6"/>
<line x1="461.95" y1="938.40" x2="461.95" y2="941.90" stroke="#231f20" stroke-width="1.6"/>
<line x1="478.80" y1="938.40" x2="478.80" y2="941.90" stroke="#231f20" stroke-width="1.6"/>
<line x1="495.65" y1="938.40" x2="495.65" y2="941.90" stroke="#231f20" stroke-width="1.6"/>
<line x1="512.50" y1="938.40" x2="512.50" y2="941.90" stroke="#231f20" stroke-width="1.6"/>
<text x="352.43" y="958.8" font-size="13.9" text-anchor="middle" fill="#231f20" stroke="#231f20" stroke-width="0.15">1</text>
<text x="369.27" y="958.8" font-size="13.9" text-anchor="middle" fill="#231f20" stroke="#231f20" stroke-width="0.15">2</text>
<text x="386.12" y="958.8" font-size="13.9" text-anchor="middle" fill="#231f20" stroke="#231f20" stroke-width="0.15">3</text>
<text x="402.98" y="958.8" font-size="13.9" text-anchor="middle" fill="#231f20" stroke="#231f20" stroke-width="0.15">4</text>
<text x="419.82" y="958.8" font-size="13.9" text-anchor="middle" fill="#231f20" stroke="#231f20" stroke-width="0.15">5</text>
<text x="436.68" y="958.8" font-size="13.9" text-anchor="middle" fill="#231f20" stroke="#231f20" stroke-width="0.15">6</text>
<text x="453.52" y="958.8" font-size="13.9" text-anchor="middle" fill="#231f20" stroke="#231f20" stroke-width="0.15">7</text>
<text x="470.38" y="958.8" font-size="13.9" text-anchor="middle" fill="#231f20" stroke="#231f20" stroke-width="0.15">8</text>
<text x="487.23" y="958.8" font-size="13.9" text-anchor="middle" fill="#231f20" stroke="#231f20" stroke-width="0.15">9</text>
<text x="504.08" y="958.8" font-size="13.9" text-anchor="middle" fill="#231f20" stroke="#231f20" stroke-width="0.15">10</text>
<text x="428.1" y="980.5" font-size="14.6" text-anchor="middle" fill="#231f20" stroke="#231f20" stroke-width="0.15">Days</text>
<text x="0" y="0" font-size="13.3" text-anchor="middle" textLength="126.5" lengthAdjust="spacingAndGlyphs" fill="#231f20" stroke="#231f20" stroke-width="0.15" transform="translate(300.5,837.5) rotate(-90)">lever presses (6hr)</text>
<line x1="351.40" y1="908.00" x2="351.40" y2="915.00" stroke="#231f20" stroke-width="1.0"/>
<line x1="348.40" y1="908.00" x2="354.40" y2="908.00" stroke="#231f20" stroke-width="1.0"/>
<line x1="348.40" y1="915.00" x2="354.40" y2="915.00" stroke="#231f20" stroke-width="1.0"/>
<line x1="368.52" y1="893.20" x2="368.52" y2="921.50" stroke="#231f20" stroke-width="1.0"/>
<line x1="365.52" y1="893.20" x2="371.52" y2="893.20" stroke="#231f20" stroke-width="1.0"/>
<line x1="365.52" y1="921.50" x2="371.52" y2="921.50" stroke="#231f20" stroke-width="1.0"/>
<line x1="385.64" y1="859.60" x2="385.64" y2="904.50" stroke="#231f20" stroke-width="1.0"/>
<line x1="382.64" y1="859.60" x2="388.64" y2="859.60" stroke="#231f20" stroke-width="1.0"/>
<line x1="382.64" y1="904.50" x2="388.64" y2="904.50" stroke="#231f20" stroke-width="1.0"/>
<line x1="402.76" y1="831.40" x2="402.76" y2="895.00" stroke="#231f20" stroke-width="1.0"/>
<line x1="399.76" y1="831.40" x2="405.76" y2="831.40" stroke="#231f20" stroke-width="1.0"/>
<line x1="399.76" y1="895.00" x2="405.76" y2="895.00" stroke="#231f20" stroke-width="1.0"/>
<line x1="419.88" y1="816.20" x2="419.88" y2="886.90" stroke="#231f20" stroke-width="1.0"/>
<line x1="416.88" y1="816.20" x2="422.88" y2="816.20" stroke="#231f20" stroke-width="1.0"/>
<line x1="416.88" y1="886.90" x2="422.88" y2="886.90" stroke="#231f20" stroke-width="1.0"/>
<line x1="437.00" y1="806.00" x2="437.00" y2="889.00" stroke="#231f20" stroke-width="1.0"/>
<line x1="434.00" y1="806.00" x2="440.00" y2="806.00" stroke="#231f20" stroke-width="1.0"/>
<line x1="434.00" y1="889.00" x2="440.00" y2="889.00" stroke="#231f20" stroke-width="1.0"/>
<line x1="454.12" y1="796.00" x2="454.12" y2="892.20" stroke="#231f20" stroke-width="1.0"/>
<line x1="451.12" y1="796.00" x2="457.12" y2="796.00" stroke="#231f20" stroke-width="1.0"/>
<line x1="451.12" y1="892.20" x2="457.12" y2="892.20" stroke="#231f20" stroke-width="1.0"/>
<line x1="471.24" y1="784.70" x2="471.24" y2="884.70" stroke="#231f20" stroke-width="1.0"/>
<line x1="468.24" y1="784.70" x2="474.24" y2="784.70" stroke="#231f20" stroke-width="1.0"/>
<line x1="468.24" y1="884.70" x2="474.24" y2="884.70" stroke="#231f20" stroke-width="1.0"/>
<line x1="488.36" y1="796.00" x2="488.36" y2="884.40" stroke="#231f20" stroke-width="1.0"/>
<line x1="485.36" y1="796.00" x2="491.36" y2="796.00" stroke="#231f20" stroke-width="1.0"/>
<line x1="485.36" y1="884.40" x2="491.36" y2="884.40" stroke="#231f20" stroke-width="1.0"/>
<line x1="505.48" y1="754.30" x2="505.48" y2="880.50" stroke="#231f20" stroke-width="1.0"/>
<line x1="502.48" y1="754.30" x2="508.48" y2="754.30" stroke="#231f20" stroke-width="1.0"/>
<line x1="502.48" y1="880.50" x2="508.48" y2="880.50" stroke="#231f20" stroke-width="1.0"/>
<line x1="368.52" y1="916.20" x2="368.52" y2="931.40" stroke="#231f20" stroke-width="1.0"/>
<line x1="365.52" y1="916.20" x2="371.52" y2="916.20" stroke="#231f20" stroke-width="1.0"/>
<line x1="365.52" y1="931.40" x2="371.52" y2="931.40" stroke="#231f20" stroke-width="1.0"/>
<line x1="385.64" y1="915.00" x2="385.64" y2="929.00" stroke="#231f20" stroke-width="1.0"/>
<line x1="382.64" y1="915.00" x2="388.64" y2="915.00" stroke="#231f20" stroke-width="1.0"/>
<line x1="382.64" y1="929.00" x2="388.64" y2="929.00" stroke="#231f20" stroke-width="1.0"/>
<line x1="402.76" y1="910.90" x2="402.76" y2="932.00" stroke="#231f20" stroke-width="1.0"/>
<line x1="399.76" y1="910.90" x2="405.76" y2="910.90" stroke="#231f20" stroke-width="1.0"/>
<line x1="399.76" y1="932.00" x2="405.76" y2="932.00" stroke="#231f20" stroke-width="1.0"/>
<line x1="419.88" y1="917.20" x2="419.88" y2="933.10" stroke="#231f20" stroke-width="1.0"/>
<line x1="416.88" y1="917.20" x2="422.88" y2="917.20" stroke="#231f20" stroke-width="1.0"/>
<line x1="416.88" y1="933.10" x2="422.88" y2="933.10" stroke="#231f20" stroke-width="1.0"/>
<line x1="437.00" y1="903.80" x2="437.00" y2="934.90" stroke="#231f20" stroke-width="1.0"/>
<line x1="434.00" y1="903.80" x2="440.00" y2="903.80" stroke="#231f20" stroke-width="1.0"/>
<line x1="434.00" y1="934.90" x2="440.00" y2="934.90" stroke="#231f20" stroke-width="1.0"/>
<path d="M351.40,910.93 L368.52,906.64 L385.64,881.35 L402.76,862.74 L419.88,851.09 L437.00,846.92 L454.12,844.13 L471.24,834.58 L488.36,839.84 L505.48,816.94" fill="none" stroke="#231f20" stroke-width="2.9" stroke-linejoin="round"/>
<path d="M351.40,921.56 L368.52,925.77 L385.64,925.04 L402.76,921.56 L419.88,925.04 L437.00,919.09 L454.12,932.85 L471.24,932.12 L488.36,932.12 L505.48,932.12" fill="none" stroke="#231f20" stroke-width="2.9" stroke-linejoin="round"/>
<circle cx="351.40" cy="910.93" r="3.9" fill="#231f20" stroke="#231f20" stroke-width="1.2"/>
<circle cx="368.52" cy="906.64" r="3.9" fill="#231f20" stroke="#231f20" stroke-width="1.2"/>
<circle cx="385.64" cy="881.35" r="3.9" fill="#231f20" stroke="#231f20" stroke-width="1.2"/>
<circle cx="402.76" cy="862.74" r="3.9" fill="#231f20" stroke="#231f20" stroke-width="1.2"/>
<circle cx="419.88" cy="851.09" r="3.9" fill="#231f20" stroke="#231f20" stroke-width="1.2"/>
<circle cx="437.00" cy="846.92" r="3.9" fill="#231f20" stroke="#231f20" stroke-width="1.2"/>
<circle cx="454.12" cy="844.13" r="3.9" fill="#231f20" stroke="#231f20" stroke-width="1.2"/>
<circle cx="471.24" cy="834.58" r="3.9" fill="#231f20" stroke="#231f20" stroke-width="1.2"/>
<circle cx="488.36" cy="839.84" r="3.9" fill="#231f20" stroke="#231f20" stroke-width="1.2"/>
<circle cx="505.48" cy="816.94" r="3.9" fill="#231f20" stroke="#231f20" stroke-width="1.2"/>
<circle cx="351.40" cy="921.56" r="3.8" fill="#fff" stroke="#231f20" stroke-width="1.3"/>
<circle cx="368.52" cy="925.77" r="3.8" fill="#fff" stroke="#231f20" stroke-width="1.3"/>
<circle cx="385.64" cy="925.04" r="3.8" fill="#fff" stroke="#231f20" stroke-width="1.3"/>
<circle cx="402.76" cy="921.56" r="3.8" fill="#fff" stroke="#231f20" stroke-width="1.3"/>
<circle cx="419.88" cy="925.04" r="3.8" fill="#fff" stroke="#231f20" stroke-width="1.3"/>
<circle cx="437.00" cy="919.09" r="3.8" fill="#fff" stroke="#231f20" stroke-width="1.3"/>
<circle cx="454.12" cy="932.85" r="3.8" fill="#fff" stroke="#231f20" stroke-width="1.3"/>
<circle cx="471.24" cy="932.12" r="3.8" fill="#fff" stroke="#231f20" stroke-width="1.3"/>
<circle cx="488.36" cy="932.12" r="3.8" fill="#fff" stroke="#231f20" stroke-width="1.3"/>
<circle cx="505.48" cy="932.12" r="3.8" fill="#fff" stroke="#231f20" stroke-width="1.3"/>
<line x1="347.60" y1="765.00" x2="380.00" y2="765.00" stroke="#231f20" stroke-width="2.4"/>
<circle cx="363.50" cy="765.00" r="4.3" fill="#231f20" stroke="#231f20" stroke-width="1.3"/>
<line x1="347.60" y1="782.00" x2="380.00" y2="782.00" stroke="#231f20" stroke-width="2.4"/>
<circle cx="363.50" cy="782.00" r="4.3" fill="#fff" stroke="#231f20" stroke-width="1.3"/>
<text x="380.8" y="769.8" font-size="13.6" textLength="74.2" lengthAdjust="spacingAndGlyphs" fill="#231f20" stroke="#231f20" stroke-width="0.15">Active Lever</text>
<text x="380.8" y="786.8" font-size="13.6" textLength="84.2" lengthAdjust="spacingAndGlyphs" fill="#231f20" stroke="#231f20" stroke-width="0.15">Inactive Lever</text>
<line x1="350.10" y1="750.50" x2="512.60" y2="750.50" stroke="#231f20" stroke-width="1.9"/>
<path d="M435.5,738 L435.50,733.40 M435.5,738 L430.80,736.70 M435.5,738 L440.20,736.70 M435.5,738 L432.70,741.90 M435.5,738 L438.30,741.90" stroke="#231f20" stroke-width="2.1" stroke-linecap="round" fill="none"/>
<text x="526.3" y="425.9" font-size="20" fill="#231f20" stroke="#231f20" stroke-width="0.15">D</text>
<text x="592.9" y="423.7" font-size="13.6" textLength="75.6" lengthAdjust="spacingAndGlyphs" fill="#231f20" stroke="#231f20" stroke-width="0.15">Relapse test</text>
<rect x="603.4" y="583.5" width="23.0" height="50.60000000000002" fill="#fff" stroke="#231f20" stroke-width="1.9"/>
<rect x="642.1" y="559.9" width="22.5" height="74.20000000000005" fill="#a09fa4" stroke="#231f20" stroke-width="1.9"/>
<rect x="680.9" y="622.4" width="23.0" height="11.700000000000045" fill="#fff" stroke="#231f20" stroke-width="1.9"/>
<rect x="719.1" y="615.1" width="22.5" height="19.0" fill="#a09fa4" stroke="#231f20" stroke-width="1.9"/>
<line x1="614.90" y1="565.70" x2="614.90" y2="598.40" stroke="#231f20" stroke-width="1.9"/>
<line x1="608.90" y1="565.70" x2="620.90" y2="565.70" stroke="#231f20" stroke-width="1.9"/>
<line x1="608.90" y1="598.40" x2="620.90" y2="598.40" stroke="#231f20" stroke-width="1.9"/>
<line x1="653.40" y1="544.70" x2="653.40" y2="573.00" stroke="#231f20" stroke-width="1.9"/>
<line x1="647.25" y1="544.70" x2="659.55" y2="544.70" stroke="#231f20" stroke-width="1.9"/>
<line x1="647.25" y1="573.00" x2="659.55" y2="573.00" stroke="#231f20" stroke-width="1.9"/>
<line x1="691.90" y1="616.60" x2="691.90" y2="628.00" stroke="#231f20" stroke-width="1.9"/>
<line x1="686.10" y1="616.60" x2="697.70" y2="616.60" stroke="#231f20" stroke-width="1.9"/>
<line x1="686.10" y1="628.00" x2="697.70" y2="628.00" stroke="#231f20" stroke-width="1.9"/>
<line x1="730.10" y1="608.80" x2="730.10" y2="618.70" stroke="#231f20" stroke-width="1.9"/>
<line x1="724.35" y1="608.80" x2="735.85" y2="608.80" stroke="#231f20" stroke-width="1.9"/>
<line x1="724.35" y1="618.70" x2="735.85" y2="618.70" stroke="#231f20" stroke-width="1.9"/>
<circle cx="606.00" cy="557.30" r="3.6" fill="none" stroke="#231f20" stroke-width="1.95"/>
<circle cx="623.80" cy="558.30" r="3.6" fill="none" stroke="#231f20" stroke-width="1.95"/>
<circle cx="614.90" cy="587.10" r="3.6" fill="none" stroke="#231f20" stroke-width="1.95"/>
<circle cx="606.00" cy="603.90" r="3.6" fill="none" stroke="#231f20" stroke-width="1.95"/>
<circle cx="623.80" cy="603.90" r="3.6" fill="none" stroke="#231f20" stroke-width="1.95"/>
<circle cx="623.80" cy="626.40" r="3.6" fill="none" stroke="#231f20" stroke-width="1.95"/>
<circle cx="606.00" cy="631.10" r="3.6" fill="none" stroke="#231f20" stroke-width="1.95"/>
<circle cx="615.00" cy="489.10" r="3.6" fill="none" stroke="#231f20" stroke-width="1.95"/>
<circle cx="653.30" cy="475.80" r="3.6" fill="none" stroke="#231f20" stroke-width="1.95"/>
<circle cx="653.40" cy="533.70" r="3.6" fill="none" stroke="#231f20" stroke-width="1.95"/>
<circle cx="653.40" cy="550.50" r="3.6" fill="none" stroke="#231f20" stroke-width="1.95"/>
<circle cx="653.40" cy="562.50" r="3.6" fill="none" stroke="#231f20" stroke-width="1.95"/>
<circle cx="653.40" cy="574.60" r="3.6" fill="none" stroke="#231f20" stroke-width="1.95"/>
<circle cx="644.20" cy="591.10" r="3.6" fill="none" stroke="#231f20" stroke-width="1.95"/>
<circle cx="653.40" cy="591.10" r="3.6" fill="none" stroke="#231f20" stroke-width="1.95"/>
<circle cx="662.50" cy="591.10" r="3.6" fill="none" stroke="#231f20" stroke-width="1.95"/>
<circle cx="691.40" cy="595.20" r="3.6" fill="none" stroke="#231f20" stroke-width="1.95"/>
<circle cx="691.40" cy="607.70" r="3.6" fill="none" stroke="#231f20" stroke-width="1.95"/>
<circle cx="688.80" cy="622.40" r="3.6" fill="none" stroke="#231f20" stroke-width="1.95"/>
<circle cx="695.60" cy="622.40" r="3.6" fill="none" stroke="#231f20" stroke-width="1.95"/>
<circle cx="682.50" cy="625.50" r="3.6" fill="none" stroke="#231f20" stroke-width="1.95"/>
<circle cx="700.80" cy="629.20" r="3.6" fill="none" stroke="#231f20" stroke-width="1.95"/>
<circle cx="682.50" cy="633.90" r="3.6" fill="none" stroke="#231f20" stroke-width="1.95"/>
<circle cx="694.50" cy="631.30" r="3.6" fill="none" stroke="#231f20" stroke-width="1.95"/>
<circle cx="689.30" cy="629.20" r="3.6" fill="none" stroke="#231f20" stroke-width="1.95"/>
<circle cx="730.10" cy="591.50" r="3.6" fill="none" stroke="#231f20" stroke-width="1.95"/>
<circle cx="730.10" cy="600.40" r="3.6" fill="none" stroke="#231f20" stroke-width="1.95"/>
<circle cx="721.20" cy="609.80" r="3.6" fill="none" stroke="#231f20" stroke-width="1.95"/>
<circle cx="730.10" cy="611.40" r="3.6" fill="none" stroke="#231f20" stroke-width="1.95"/>
<circle cx="739.50" cy="609.80" r="3.6" fill="none" stroke="#231f20" stroke-width="1.95"/>
<circle cx="730.10" cy="627.10" r="3.6" fill="none" stroke="#231f20" stroke-width="1.95"/>
<circle cx="739.00" cy="627.10" r="3.6" fill="none" stroke="#231f20" stroke-width="1.95"/>
<circle cx="721.20" cy="633.90" r="3.6" fill="none" stroke="#231f20" stroke-width="1.95"/>
<path d="M589.2,438.30 L589.2,634.1 L757,634.1" fill="none" stroke="#231f20" stroke-width="1.9"/>
<line x1="581.40" y1="634.10" x2="589.20" y2="634.10" stroke="#231f20" stroke-width="1.9"/>
<text x="578.7" y="639.2" font-size="14.2" text-anchor="end" fill="#231f20" stroke="#231f20" stroke-width="0.15">0</text>
<line x1="581.40" y1="606.27" x2="589.20" y2="606.27" stroke="#231f20" stroke-width="1.9"/>
<text x="578.7" y="611.37" font-size="14.2" text-anchor="end" fill="#231f20" stroke="#231f20" stroke-width="0.15">50</text>
<line x1="581.40" y1="578.44" x2="589.20" y2="578.44" stroke="#231f20" stroke-width="1.9"/>
<text x="578.7" y="583.5400000000001" font-size="14.2" text-anchor="end" fill="#231f20" stroke="#231f20" stroke-width="0.15">100</text>
<line x1="581.40" y1="550.61" x2="589.20" y2="550.61" stroke="#231f20" stroke-width="1.9"/>
<text x="578.7" y="555.71" font-size="14.2" text-anchor="end" fill="#231f20" stroke="#231f20" stroke-width="0.15">150</text>
<line x1="581.40" y1="522.78" x2="589.20" y2="522.78" stroke="#231f20" stroke-width="1.9"/>
<text x="578.7" y="527.88" font-size="14.2" text-anchor="end" fill="#231f20" stroke="#231f20" stroke-width="0.15">200</text>
<line x1="581.40" y1="494.95" x2="589.20" y2="494.95" stroke="#231f20" stroke-width="1.9"/>
<text x="578.7" y="500.05000000000007" font-size="14.2" text-anchor="end" fill="#231f20" stroke="#231f20" stroke-width="0.15">250</text>
<line x1="581.40" y1="467.12" x2="589.20" y2="467.12" stroke="#231f20" stroke-width="1.9"/>
<text x="578.7" y="472.22" font-size="14.2" text-anchor="end" fill="#231f20" stroke="#231f20" stroke-width="0.15">300</text>
<line x1="581.40" y1="439.29" x2="589.20" y2="439.29" stroke="#231f20" stroke-width="1.9"/>
<text x="578.7" y="444.39000000000004" font-size="14.2" text-anchor="end" fill="#231f20" stroke="#231f20" stroke-width="0.15">350</text>
<rect x="702.9" y="466.4" width="10.4" height="10.4" fill="#a09fa4" stroke="#231f20" stroke-width="1.3"/>
<rect x="702.9" y="481.5" width="10.4" height="10.4" fill="#231f20" stroke="#231f20" stroke-width="1.3"/>
<text x="718.5" y="478.2" font-size="13.4" fill="#231f20" stroke="#231f20" stroke-width="0.15">2d</text>
<text x="718.5" y="493.09999999999997" font-size="13.4" fill="#231f20" stroke="#231f20" stroke-width="0.15">21d</text>
<text x="0" y="0" font-size="14.5" text-anchor="middle" textLength="150.4" lengthAdjust="spacingAndGlyphs" fill="#231f20" stroke="#231f20" stroke-width="0.15" transform="translate(548.5,552) rotate(-90)">lever presses (90 min)</text>
<text x="634" y="648.5" font-size="14.6" text-anchor="middle" fill="#231f20" stroke="#231f20" stroke-width="0.15">Active</text>
<text x="711.6" y="648.5" font-size="14.6" text-anchor="middle" fill="#231f20" stroke="#231f20" stroke-width="0.15">Inactive</text>
<text x="525.2" y="735.6" font-size="20" fill="#231f20" stroke="#231f20" stroke-width="0.15">G</text>
<text x="596.7" y="744.6" font-size="13.6" textLength="75.6" lengthAdjust="spacingAndGlyphs" fill="#231f20" stroke="#231f20" stroke-width="0.15">Relapse test</text>
<rect x="604.1" y="905.9" width="22.699999999999932" height="48.30000000000007" fill="#fff" stroke="#231f20" stroke-width="1.9"/>
<rect x="642" y="906.5" width="23.5" height="47.700000000000045" fill="#a09fa4" stroke="#231f20" stroke-width="1.9"/>
<rect x="680.2" y="941.9" width="23.5" height="12.300000000000068" fill="#fff" stroke="#231f20" stroke-width="1.9"/>
<rect x="718.7" y="944.8" width="23.59999999999991" height="9.400000000000091" fill="#a09fa4" stroke="#231f20" stroke-width="1.9"/>
<line x1="615.60" y1="882.10" x2="615.60" y2="929.00" stroke="#231f20" stroke-width="1.9"/>
<line x1="609.60" y1="882.10" x2="621.60" y2="882.10" stroke="#231f20" stroke-width="1.9"/>
<line x1="609.60" y1="929.00" x2="621.60" y2="929.00" stroke="#231f20" stroke-width="1.9"/>
<line x1="653.50" y1="888.40" x2="653.50" y2="922.40" stroke="#231f20" stroke-width="1.9"/>
<line x1="647.50" y1="888.40" x2="659.50" y2="888.40" stroke="#231f20" stroke-width="1.9"/>
<line x1="647.50" y1="922.40" x2="659.50" y2="922.40" stroke="#231f20" stroke-width="1.9"/>
<line x1="691.40" y1="934.00" x2="691.40" y2="946.00" stroke="#231f20" stroke-width="1.9"/>
<line x1="686.40" y1="934.00" x2="696.40" y2="934.00" stroke="#231f20" stroke-width="1.9"/>
<line x1="686.40" y1="946.00" x2="696.40" y2="946.00" stroke="#231f20" stroke-width="1.9"/>
<line x1="732.80" y1="938.00" x2="732.80" y2="948.00" stroke="#231f20" stroke-width="1.9"/>
<line x1="727.80" y1="938.00" x2="737.80" y2="938.00" stroke="#231f20" stroke-width="1.9"/>
<line x1="727.80" y1="948.00" x2="737.80" y2="948.00" stroke="#231f20" stroke-width="1.9"/>
<circle cx="615.60" cy="762.30" r="3.6" fill="none" stroke="#231f20" stroke-width="1.95"/>
<circle cx="615.60" cy="874.50" r="3.6" fill="none" stroke="#231f20" stroke-width="1.95"/>
<circle cx="615.60" cy="891.70" r="3.6" fill="none" stroke="#231f20" stroke-width="1.95"/>
<circle cx="611.30" cy="924.60" r="3.6" fill="none" stroke="#231f20" stroke-width="1.95"/>
<circle cx="620.10" cy="927.50" r="3.6" fill="none" stroke="#231f20" stroke-width="1.95"/>
<circle cx="606.70" cy="952.90" r="3.6" fill="none" stroke="#231f20" stroke-width="1.95"/>
<circle cx="615.30" cy="951.30" r="3.6" fill="none" stroke="#231f20" stroke-width="1.95"/>
<circle cx="624.10" cy="952.90" r="3.6" fill="none" stroke="#231f20" stroke-width="1.95"/>
<circle cx="653.50" cy="826.70" r="3.6" fill="none" stroke="#231f20" stroke-width="1.95"/>
<circle cx="653.50" cy="880.50" r="3.6" fill="none" stroke="#231f20" stroke-width="1.95"/>
<circle cx="653.50" cy="912.00" r="3.6" fill="none" stroke="#231f20" stroke-width="1.95"/>
<circle cx="644.60" cy="937.40" r="3.6" fill="none" stroke="#231f20" stroke-width="1.95"/>
<circle cx="662.80" cy="939.50" r="3.6" fill="none" stroke="#231f20" stroke-width="1.95"/>
<circle cx="653.50" cy="952.90" r="3.6" fill="none" stroke="#231f20" stroke-width="1.95"/>
<circle cx="691.70" cy="915.20" r="3.6" fill="none" stroke="#231f20" stroke-width="1.95"/>
<circle cx="682.60" cy="939.80" r="3.6" fill="none" stroke="#231f20" stroke-width="1.95"/>
<circle cx="691.70" cy="935.60" r="3.6" fill="none" stroke="#231f20" stroke-width="1.95"/>
<circle cx="700.90" cy="940.30" r="3.6" fill="none" stroke="#231f20" stroke-width="1.95"/>
<circle cx="687.30" cy="941.90" r="3.6" fill="none" stroke="#231f20" stroke-width="1.95"/>
<circle cx="694.60" cy="941.90" r="3.6" fill="none" stroke="#231f20" stroke-width="1.95"/>
<circle cx="687.30" cy="952.40" r="3.6" fill="none" stroke="#231f20" stroke-width="1.95"/>
<circle cx="694.60" cy="947.60" r="3.6" fill="none" stroke="#231f20" stroke-width="1.95"/>
<circle cx="726.50" cy="936.10" r="3.6" fill="none" stroke="#231f20" stroke-width="1.95"/>
<circle cx="732.80" cy="936.10" r="3.6" fill="none" stroke="#231f20" stroke-width="1.95"/>
<circle cx="739.10" cy="937.20" r="3.6" fill="none" stroke="#231f20" stroke-width="1.95"/>
<circle cx="720.80" cy="941.90" r="3.6" fill="none" stroke="#231f20" stroke-width="1.95"/>
<circle cx="721.00" cy="953.40" r="3.6" fill="none" stroke="#231f20" stroke-width="1.95"/>
<circle cx="732.80" cy="948.20" r="3.6" fill="none" stroke="#231f20" stroke-width="1.95"/>
<circle cx="738.60" cy="947.60" r="3.6" fill="none" stroke="#231f20" stroke-width="1.95"/>
<path d="M590,760.00 L590,954.2 L757,954.2" fill="none" stroke="#231f20" stroke-width="1.9"/>
<line x1="582.20" y1="954.20" x2="590.00" y2="954.20" stroke="#231f20" stroke-width="1.9"/>
<text x="578.7" y="959.3000000000001" font-size="14.2" text-anchor="end" fill="#231f20" stroke="#231f20" stroke-width="0.15">0</text>
<line x1="582.20" y1="926.87" x2="590.00" y2="926.87" stroke="#231f20" stroke-width="1.9"/>
<text x="578.7" y="931.97" font-size="14.2" text-anchor="end" fill="#231f20" stroke="#231f20" stroke-width="0.15">50</text>
<line x1="582.20" y1="899.54" x2="590.00" y2="899.54" stroke="#231f20" stroke-width="1.9"/>
<text x="578.7" y="904.6400000000001" font-size="14.2" text-anchor="end" fill="#231f20" stroke="#231f20" stroke-width="0.15">100</text>
<line x1="582.20" y1="872.21" x2="590.00" y2="872.21" stroke="#231f20" stroke-width="1.9"/>
<text x="578.7" y="877.3100000000001" font-size="14.2" text-anchor="end" fill="#231f20" stroke="#231f20" stroke-width="0.15">150</text>
<line x1="582.20" y1="844.88" x2="590.00" y2="844.88" stroke="#231f20" stroke-width="1.9"/>
<text x="578.7" y="849.9800000000001" font-size="14.2" text-anchor="end" fill="#231f20" stroke="#231f20" stroke-width="0.15">200</text>
<line x1="582.20" y1="817.55" x2="590.00" y2="817.55" stroke="#231f20" stroke-width="1.9"/>
<text x="578.7" y="822.6500000000001" font-size="14.2" text-anchor="end" fill="#231f20" stroke="#231f20" stroke-width="0.15">250</text>
<line x1="582.20" y1="790.22" x2="590.00" y2="790.22" stroke="#231f20" stroke-width="1.9"/>
<text x="578.7" y="795.32" font-size="14.2" text-anchor="end" fill="#231f20" stroke="#231f20" stroke-width="0.15">300</text>
<line x1="582.20" y1="762.89" x2="590.00" y2="762.89" stroke="#231f20" stroke-width="1.9"/>
<text x="578.7" y="767.9900000000001" font-size="14.2" text-anchor="end" fill="#231f20" stroke="#231f20" stroke-width="0.15">350</text>
<rect x="703.6" y="763" width="10.4" height="10.4" fill="#a09fa4" stroke="#231f20" stroke-width="1.3"/>
<rect x="703.6" y="778.1" width="10.4" height="10.4" fill="#231f20" stroke="#231f20" stroke-width="1.3"/>
<text x="719.2" y="774.8" font-size="13.4" fill="#231f20" stroke="#231f20" stroke-width="0.15">2d</text>
<text x="719.2" y="789.7" font-size="13.4" fill="#231f20" stroke="#231f20" stroke-width="0.15">21d</text>
<text x="0" y="0" font-size="14.5" text-anchor="middle" textLength="150.3" lengthAdjust="spacingAndGlyphs" fill="#231f20" stroke="#231f20" stroke-width="0.15" transform="translate(550.5,860.9) rotate(-90)">lever presses (90 min)</text>
<text x="632.9" y="970.8" font-size="14.6" text-anchor="middle" fill="#231f20" stroke="#231f20" stroke-width="0.15">Active</text>
<text x="710.6" y="970.8" font-size="14.6" text-anchor="middle" fill="#231f20" stroke="#231f20" stroke-width="0.15">Inactive</text>
</svg></body></html>
